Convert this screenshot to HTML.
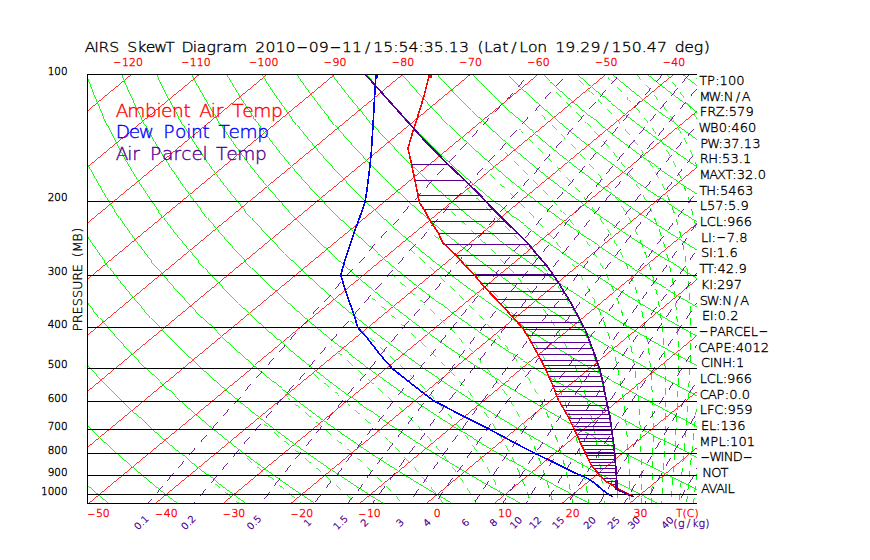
<!DOCTYPE html>
<html lang="en"><head><meta charset="utf-8"><title>AIRS SkewT Diagram</title>
<style>html,body{margin:0;padding:0;background:#fff;overflow:hidden}svg{display:block}text{font-family:"DejaVu Sans","Liberation Sans",sans-serif;font-weight:200;white-space:pre}</style></head>
<body>
<svg width="870" height="560" viewBox="0 0 870 560">
<rect width="870" height="560" fill="#fff"/>
<defs><clipPath id="c"><rect x="87.5" y="74.5" width="609.5" height="429"/></clipPath></defs>
<g clip-path="url(#c)" fill="none" stroke-width="1" shape-rendering="crispEdges">
<path stroke="#ff0000" stroke-width="0.8" d="M-522.3 503.5 L-4.3 74.7 M-454.6 503.5 L63.5 74.7 M-386.8 503.5 L131.2 74.7 M-319.1 503.5 L199 74.7 M-251.3 503.5 L266.8 74.7 M-183.5 503.5 L334.5 74.7 M-115.8 503.5 L402.3 74.7 M-48 503.5 L470 74.7 M19.7 503.5 L537.8 74.7 M87.5 503.5 L605.6 74.7 M155.3 503.5 L673.3 74.7 M223 503.5 L741.1 74.7 M290.8 503.5 L808.8 74.7 M358.5 503.5 L876.6 74.7 M426.3 503.5 L944.4 74.7 M494.1 503.5 L1012.1 74.7 M561.8 503.5 L1079.9 74.7 M629.6 503.5 L1147.6 74.7 M697.3 503.5 L1215.4 74.7"/>
<path stroke="#00ff00" stroke-width="0.92" d="M108.7 503.5 L100.3 496.4 L92 489.2 L83.9 482.1 L76.1 474.9 M177.5 503.5 L168.2 496.4 L159.2 489.2 L150.4 482.1 L141.8 474.9 L133.3 467.8 L125.1 460.6 L117 453.5 L109.1 446.3 L101.4 439.2 L93.9 432 L86.6 424.9 L79.5 417.7 M246.2 503.5 L236.2 496.4 L226.4 489.2 L216.8 482.1 L207.5 474.9 L198.3 467.8 L189.3 460.6 L180.5 453.5 L172 446.3 L163.6 439.2 L155.4 432 L147.4 424.9 L139.5 417.7 L131.9 410.6 L124.4 403.4 L117.1 396.3 L110 389.1 L103.1 382 L96.3 374.8 L89.8 367.7 L83.3 360.5 L77.1 353.4 M314.9 503.5 L304.1 496.4 L293.6 489.2 L283.3 482.1 L273.2 474.9 L263.3 467.8 L253.6 460.6 L244.1 453.5 L234.8 446.3 L225.7 439.2 L216.8 432 L208.1 424.9 L199.6 417.7 L191.3 410.6 L183.2 403.4 L175.2 396.3 L167.5 389.1 L159.9 382 L152.5 374.8 L145.3 367.7 L138.3 360.5 L131.4 353.4 L124.7 346.3 L118.2 339.1 L111.8 332 L105.7 324.8 L99.7 317.7 L93.8 310.5 L88.1 303.4 L82.6 296.2 L77.2 289.1 M383.6 503.5 L372.1 496.4 L360.8 489.2 L349.7 482.1 L338.9 474.9 L328.2 467.8 L317.8 460.6 L307.6 453.5 L297.6 446.3 L287.8 439.2 L278.2 432 L268.8 424.9 L259.7 417.7 L250.7 410.6 L241.9 403.4 L233.3 396.3 L224.9 389.1 L216.7 382 L208.7 374.8 L200.8 367.7 L193.2 360.5 L185.7 353.4 L178.4 346.3 L171.3 339.1 L164.4 332 L157.6 324.8 L151 317.7 L144.6 310.5 L138.3 303.4 L132.2 296.2 L126.3 289.1 L120.5 281.9 L114.9 274.8 L109.5 267.6 L104.2 260.5 L99.1 253.3 L94.1 246.2 L89.3 239 L84.6 231.9 L80 224.7 M452.3 503.5 L440 496.4 L428 489.2 L416.2 482.1 L404.6 474.9 L393.2 467.8 L382 460.6 L371.1 453.5 L360.4 446.3 L349.9 439.2 L339.6 432 L329.6 424.9 L319.7 417.7 L310.1 410.6 L300.6 403.4 L291.4 396.3 L282.3 389.1 L273.5 382 L264.8 374.8 L256.4 367.7 L248.1 360.5 L240 353.4 L232.1 346.3 L224.4 339.1 L216.9 332 L209.5 324.8 L202.3 317.7 L195.3 310.5 L188.5 303.4 L181.9 296.2 L175.4 289.1 L169.1 281.9 L162.9 274.8 L157 267.6 L151.1 260.5 L145.5 253.3 L140 246.2 L134.6 239 L129.5 231.9 L124.4 224.7 L119.6 217.6 L114.8 210.5 L110.2 203.3 L105.8 196.2 L101.5 189 L97.4 181.9 L93.4 174.7 L89.5 167.6 L85.8 160.4 L82.2 153.3 M521 503.5 L508 496.4 L495.2 489.2 L482.6 482.1 L470.3 474.9 L458.2 467.8 L446.3 460.6 L434.6 453.5 L423.2 446.3 L412 439.2 L401.1 432 L390.3 424.9 L379.8 417.7 L369.5 410.6 L359.4 403.4 L349.5 396.3 L339.8 389.1 L330.3 382 L321 374.8 L311.9 367.7 L303 360.5 L294.3 353.4 L285.8 346.3 L277.5 339.1 L269.4 332 L261.4 324.8 L253.7 317.7 L246.1 310.5 L238.7 303.4 L231.5 296.2 L224.5 289.1 L217.6 281.9 L210.9 274.8 L204.4 267.6 L198.1 260.5 L191.9 253.3 L185.9 246.2 L180 239 L174.3 231.9 L168.8 224.7 L163.4 217.6 L158.2 210.5 L153.2 203.3 L148.3 196.2 L143.5 189 L138.9 181.9 L134.4 174.7 L130.1 167.6 L125.9 160.4 L121.9 153.3 L118 146.1 L114.3 139 L110.7 131.8 L107.2 124.7 L103.9 117.5 L100.7 110.4 L97.6 103.2 L94.6 96.1 L91.8 88.9 L89.1 81.8 L86.6 74.7 M589.7 503.5 L575.9 496.4 L562.3 489.2 L549 482.1 L536 474.9 L523.1 467.8 L510.5 460.6 L498.2 453.5 L486.1 446.3 L474.2 439.2 L462.5 432 L451.1 424.9 L439.9 417.7 L428.9 410.6 L418.1 403.4 L407.5 396.3 L397.2 389.1 L387.1 382 L377.1 374.8 L367.4 367.7 L357.9 360.5 L348.6 353.4 L339.5 346.3 L330.6 339.1 L321.9 332 L313.3 324.8 L305 317.7 L296.9 310.5 L288.9 303.4 L281.2 296.2 L273.6 289.1 L266.2 281.9 L258.9 274.8 L251.9 267.6 L245 260.5 L238.3 253.3 L231.8 246.2 L225.4 239 L219.2 231.9 L213.2 224.7 L207.3 217.6 L201.6 210.5 L196.1 203.3 L190.7 196.2 L185.5 189 L180.4 181.9 L175.5 174.7 L170.7 167.6 L166.1 160.4 L161.6 153.3 L157.3 146.1 L153.1 139 L149 131.8 L145.1 124.7 L141.4 117.5 L137.7 110.4 L134.3 103.2 L130.9 96.1 L127.7 88.9 L124.6 81.8 L121.7 74.7 M658.4 503.5 L643.9 496.4 L629.5 489.2 L615.5 482.1 L601.7 474.9 L588.1 467.8 L574.8 460.6 L561.7 453.5 L548.9 446.3 L536.3 439.2 L523.9 432 L511.8 424.9 L499.9 417.7 L488.3 410.6 L476.8 403.4 L465.6 396.3 L454.6 389.1 L443.9 382 L433.3 374.8 L423 367.7 L412.8 360.5 L402.9 353.4 L393.2 346.3 L383.7 339.1 L374.4 332 L365.3 324.8 L356.4 317.7 L347.6 310.5 L339.1 303.4 L330.8 296.2 L322.7 289.1 L314.7 281.9 L306.9 274.8 L299.4 267.6 L292 260.5 L284.7 253.3 L277.7 246.2 L270.8 239 L264.1 231.9 L257.6 224.7 L251.2 217.6 L245 210.5 L239 203.3 L233.1 196.2 L227.4 189 L221.9 181.9 L216.5 174.7 L211.3 167.6 L206.2 160.4 L201.3 153.3 L196.5 146.1 L191.9 139 L187.4 131.8 L183.1 124.7 L178.9 117.5 L174.8 110.4 L170.9 103.2 L167.2 96.1 L163.6 88.9 L160.1 81.8 L156.7 74.7 M711.8 496.4 L696.7 489.2 L681.9 482.1 L667.4 474.9 L653.1 467.8 L639 460.6 L625.2 453.5 L611.7 446.3 L598.4 439.2 L585.4 432 L572.5 424.9 L560 417.7 L547.7 410.6 L535.6 403.4 L523.7 396.3 L512.1 389.1 L500.6 382 L489.5 374.8 L478.5 367.7 L467.7 360.5 L457.2 353.4 L446.9 346.3 L436.8 339.1 L426.9 332 L417.2 324.8 L407.7 317.7 L398.4 310.5 L389.3 303.4 L380.4 296.2 L371.8 289.1 L363.3 281.9 L354.9 274.8 L346.8 267.6 L338.9 260.5 L331.1 253.3 L323.6 246.2 L316.2 239 L309 231.9 L302 224.7 L295.1 217.6 L288.4 210.5 L281.9 203.3 L275.6 196.2 L269.4 189 L263.4 181.9 L257.5 174.7 L251.8 167.6 L246.3 160.4 L240.9 153.3 L235.7 146.1 L230.7 139 L225.8 131.8 L221 124.7 L216.4 117.5 L211.9 110.4 L207.6 103.2 L203.5 96.1 L199.4 88.9 L195.5 81.8 L191.8 74.7 M703.3 460.6 L688.8 453.5 L674.5 446.3 L660.5 439.2 L646.8 432 L633.3 424.9 L620 417.7 L607 410.6 L594.3 403.4 L581.8 396.3 L569.5 389.1 L557.4 382 L545.6 374.8 L534 367.7 L522.7 360.5 L511.5 353.4 L500.6 346.3 L489.9 339.1 L479.4 332 L469.1 324.8 L459 317.7 L449.2 310.5 L439.5 303.4 L430.1 296.2 L420.8 289.1 L411.8 281.9 L402.9 274.8 L394.3 267.6 L385.8 260.5 L377.6 253.3 L369.5 246.2 L361.6 239 L353.9 231.9 L346.3 224.7 L339 217.6 L331.8 210.5 L324.8 203.3 L318 196.2 L311.3 189 L304.9 181.9 L298.6 174.7 L292.4 167.6 L286.4 160.4 L280.6 153.3 L275 146.1 L269.5 139 L264.1 131.8 L258.9 124.7 L253.9 117.5 L249 110.4 L244.3 103.2 L239.7 96.1 L235.3 88.9 L231 81.8 L226.9 74.7 M708.2 432 L694 424.9 L680.1 417.7 L666.4 410.6 L653 403.4 L639.8 396.3 L626.9 389.1 L614.2 382 L601.8 374.8 L589.6 367.7 L577.6 360.5 L565.8 353.4 L554.3 346.3 L543 339.1 L531.9 332 L521 324.8 L510.4 317.7 L500 310.5 L489.7 303.4 L479.7 296.2 L469.9 289.1 L460.3 281.9 L450.9 274.8 L441.8 267.6 L432.8 260.5 L424 253.3 L415.4 246.2 L407 239 L398.7 231.9 L390.7 224.7 L382.9 217.6 L375.2 210.5 L367.7 203.3 L360.4 196.2 L353.3 189 L346.4 181.9 L339.6 174.7 L333 167.6 L326.5 160.4 L320.3 153.3 L314.2 146.1 L308.3 139 L302.5 131.8 L296.9 124.7 L291.4 117.5 L286.1 110.4 L281 103.2 L276 96.1 L271.2 88.9 L266.5 81.8 L261.9 74.7 M711.8 403.4 L697.9 396.3 L684.3 389.1 L671 382 L657.9 374.8 L645.1 367.7 L632.5 360.5 L620.1 353.4 L608 346.3 L596.1 339.1 L584.4 332 L573 324.8 L561.7 317.7 L550.7 310.5 L539.9 303.4 L529.4 296.2 L519 289.1 L508.9 281.9 L499 274.8 L489.2 267.6 L479.7 260.5 L470.4 253.3 L461.3 246.2 L452.3 239 L443.6 231.9 L435.1 224.7 L426.8 217.6 L418.6 210.5 L410.6 203.3 L402.9 196.2 L395.3 189 L387.9 181.9 L380.6 174.7 L373.6 167.6 L366.7 160.4 L360 153.3 L353.4 146.1 L347 139 L340.8 131.8 L334.8 124.7 L328.9 117.5 L323.2 110.4 L317.7 103.2 L312.3 96.1 L307 88.9 L301.9 81.8 L297 74.7 M714.1 374.8 L700.6 367.7 L687.4 360.5 L674.4 353.4 L661.7 346.3 L649.2 339.1 L636.9 332 L624.9 324.8 L613.1 317.7 L601.5 310.5 L590.1 303.4 L579 296.2 L568.1 289.1 L557.4 281.9 L547 274.8 L536.7 267.6 L526.6 260.5 L516.8 253.3 L507.2 246.2 L497.7 239 L488.5 231.9 L479.5 224.7 L470.6 217.6 L462 210.5 L453.6 203.3 L445.3 196.2 L437.2 189 L429.3 181.9 L421.6 174.7 L414.1 167.6 L406.8 160.4 L399.6 153.3 L392.7 146.1 L385.8 139 L379.2 131.8 L372.7 124.7 L366.4 117.5 L360.3 110.4 L354.3 103.2 L348.5 96.1 L342.9 88.9 L337.4 81.8 L332.1 74.7 M702.3 339.1 L689.4 332 L676.8 324.8 L664.4 317.7 L652.3 310.5 L640.4 303.4 L628.7 296.2 L617.2 289.1 L606 281.9 L595 274.8 L584.2 267.6 L573.6 260.5 L563.2 253.3 L553.1 246.2 L543.1 239 L533.4 231.9 L523.9 224.7 L514.5 217.6 L505.4 210.5 L496.5 203.3 L487.7 196.2 L479.2 189 L470.8 181.9 L462.7 174.7 L454.7 167.6 L446.9 160.4 L439.3 153.3 L431.9 146.1 L424.6 139 L417.6 131.8 L410.7 124.7 L404 117.5 L397.4 110.4 L391 103.2 L384.8 96.1 L378.8 88.9 L372.9 81.8 L367.2 74.7 M703 310.5 L690.6 303.4 L678.3 296.2 L666.3 289.1 L654.5 281.9 L643 274.8 L631.6 267.6 L620.5 260.5 L609.6 253.3 L599 246.2 L588.5 239 L578.3 231.9 L568.2 224.7 L558.4 217.6 L548.8 210.5 L539.4 203.3 L530.2 196.2 L521.2 189 L512.3 181.9 L503.7 174.7 L495.3 167.6 L487 160.4 L479 153.3 L471.1 146.1 L463.4 139 L455.9 131.8 L448.6 124.7 L441.5 117.5 L434.5 110.4 L427.7 103.2 L421.1 96.1 L414.6 88.9 L408.4 81.8 L402.2 74.7 M703.1 281.9 L691 274.8 L679.1 267.6 L667.5 260.5 L656.1 253.3 L644.9 246.2 L633.9 239 L623.1 231.9 L612.6 224.7 L602.3 217.6 L592.2 210.5 L582.3 203.3 L572.6 196.2 L563.1 189 L553.8 181.9 L544.7 174.7 L535.9 167.6 L527.2 160.4 L518.7 153.3 L510.4 146.1 L502.2 139 L494.3 131.8 L486.6 124.7 L479 117.5 L471.6 110.4 L464.4 103.2 L457.4 96.1 L450.5 88.9 L443.8 81.8 L437.3 74.7 M702.5 253.3 L690.8 246.2 L679.3 239 L668 231.9 L657 224.7 L646.2 217.6 L635.6 210.5 L625.2 203.3 L615 196.2 L605.1 189 L595.3 181.9 L585.8 174.7 L576.4 167.6 L567.3 160.4 L558.3 153.3 L549.6 146.1 L541 139 L532.7 131.8 L524.5 124.7 L516.5 117.5 L508.7 110.4 L501.1 103.2 L493.6 96.1 L486.4 88.9 L479.3 81.8 L472.4 74.7 M712.9 231.9 L701.4 224.7 L690.1 217.6 L679 210.5 L668.1 203.3 L657.5 196.2 L647 189 L636.8 181.9 L626.8 174.7 L617 167.6 L607.4 160.4 L598 153.3 L588.8 146.1 L579.8 139 L571 131.8 L562.4 124.7 L554 117.5 L545.8 110.4 L537.8 103.2 L529.9 96.1 L522.2 88.9 L514.8 81.8 L507.5 74.7 M711 203.3 L699.9 196.2 L689 189 L678.3 181.9 L667.8 174.7 L657.6 167.6 L647.5 160.4 L637.7 153.3 L628.1 146.1 L618.6 139 L609.4 131.8 L600.4 124.7 L591.5 117.5 L582.9 110.4 L574.4 103.2 L566.2 96.1 L558.1 88.9 L550.2 81.8 L542.5 74.7 M708.9 174.7 L698.2 167.6 L687.6 160.4 L677.4 153.3 L667.3 146.1 L657.4 139 L647.8 131.8 L638.3 124.7 L629 117.5 L620 110.4 L611.1 103.2 L602.5 96.1 L594 88.9 L585.7 81.8 L577.6 74.7 M706.5 146.1 L696.2 139 L686.1 131.8 L676.2 124.7 L666.5 117.5 L657.1 110.4 L647.8 103.2 L638.7 96.1 L629.8 88.9 L621.2 81.8 L612.7 74.7 M704.1 117.5 L694.2 110.4 L684.5 103.2 L675 96.1 L665.7 88.9 L656.6 81.8 L647.7 74.7 M701.6 88.9 L692.1 81.8 L682.8 74.7"/>
<path stroke="#00ff00" d="M505.5 503.5 L504.7 501.7 M529.3 498.2 L529.1 497.8 L527 492 M524.8 486.2 L523.7 483.5 L522.6 480.6 L522.4 480.1 M519.9 474.4 L518.9 472.1 L517.6 469.2 L517.3 468.3 M552.3 500.5 L551.5 497.8 L550.8 494.9 L550.6 494.2 M548.9 488.3 L548.3 486.3 L547.5 483.5 L547 482 M545.2 476.1 L544.8 474.9 L543.8 472.1 L543.1 469.9 M541 464.1 L540.8 463.5 L539.8 460.6 L538.8 457.9 M536.5 452.2 L536.4 452 L534 446.1 M572.8 502.8 L572.4 500.6 L571.8 497.8 L571.6 496.5 M570.4 490.5 L570.1 489.2 L569.5 486.3 L569 484.1 M567.7 478.2 L567.6 477.8 L566.1 471.9 M564.6 465.9 L564 463.5 L563.2 460.6 L562.9 459.6 M561.2 453.7 L560.7 452 L559.8 449.2 L559.3 447.5 M557.4 441.6 L557.1 440.6 L556.1 437.7 L555.3 435.4 M553.2 429.6 L553 429.2 L551.9 426.3 L550.8 423.5 M548.5 417.7 L548.5 417.7 L545.8 411.7 M588.7 503.5 L588.3 500.6 L588.1 498.9 M587.2 492.8 L587.1 492.1 L586.7 489.2 L586.2 486.4 M585.3 480.4 L584.8 477.8 L584.3 474.9 L584.2 474 M583.1 468 L582.7 466.3 L582.2 463.5 L581.8 461.7 M580.5 455.7 L580.4 454.9 L579.7 452 L579.1 449.4 M577.7 443.4 L577 440.6 L576.3 437.7 L576.1 437.1 M574.5 431.2 L573.9 429.2 L573.1 426.3 L572.7 424.9 M570.8 419 L570.4 417.7 L569.5 414.9 L568.8 412.8 M566.8 407 L566.5 406.3 L565.5 403.4 L564.5 400.8 M562.2 395.1 L562.1 394.9 L559.6 389 M604.2 503.5 L604 501.3 M603.5 495.2 L603.4 494.9 L602.8 488.8 M602.2 482.7 L602 480.6 L601.6 477.8 L601.5 476.3 M600.7 470.3 L600.6 469.2 L600.2 466.3 L599.9 463.9 M599 457.9 L599 457.8 L598.1 451.4 M597.1 445.4 L596.7 443.5 L596.2 440.6 L595.9 439.1 M594.8 433.1 L594.6 432 L594 429.2 L593.5 426.7 M592.2 420.7 L592.2 420.6 L590.7 414.4 M589.2 408.5 L588.6 406.3 L587.9 403.4 L587.5 402.2 M585.8 396.3 L585.4 394.9 L584.5 392 L583.9 390 M581.9 384.2 L581.7 383.4 L580.7 380.6 L579.8 378 M577.6 372.2 L577.5 372 L575.1 366.1 M617.3 497.6 L617.2 494.9 L617 492.1 L617 491.2 M616.6 485.1 L616.5 483.5 L616.3 480.6 L616.2 478.7 M615.7 472.6 L615.7 472.1 L615.2 466.2 M614.7 460.2 L614.5 457.8 L614.2 454.9 L614.1 453.7 M613.4 447.7 L613.3 446.3 L613 443.5 L612.7 441.3 M611.9 435.2 L611.9 434.9 L611.1 428.8 M610.2 422.8 L609.8 420.6 L609.4 417.7 L609.1 416.4 M608.1 410.4 L607.9 409.2 L607.3 406.3 L606.9 404 M605.7 398 L605.6 397.7 L604.3 391.7 M602.9 385.8 L602.3 383.4 L601.5 380.6 L601.2 379.4 M599.6 373.5 L599.2 372 L598.3 369.1 L597.8 367.3 M595.9 361.4 L595.6 360.5 L594.7 357.7 L593.8 355.2 M591.7 349.4 L591.6 349.1 L589.3 343.3 M586.9 337.5 L585.7 334.8 L584.4 332 L584.2 331.5 M629.9 500.1 L629.8 497.8 L629.8 494.9 L629.7 493.6 M629.6 487.6 L629.6 486.3 L629.5 483.5 L629.4 481.1 M629.2 475 L629.2 474.9 L629 468.6 M628.7 462.5 L628.6 460.6 L628.5 457.8 L628.4 456.1 M628.1 450 L628 449.2 L627.8 446.3 L627.7 443.6 M627.2 437.5 L627 434.9 L626.8 432 L626.7 431.1 M626.2 425 L626 423.4 L625.7 420.6 L625.5 418.6 M624.9 412.6 L624.8 412 L624.1 406.2 M623.3 400.1 L622.9 397.7 L622.5 394.9 L622.3 393.7 M621.4 387.7 L621.1 386.3 L620.7 383.4 L620.3 381.3 M619.1 375.3 L619 374.8 L617.8 369 M616.5 363 L615.9 360.5 L615.2 357.7 L614.9 356.7 M613.4 350.8 L612.9 349.1 L612.1 346.3 L611.6 344.5 M609.8 338.6 L609.5 337.7 L608.5 334.8 L607.7 332.4 M605.6 326.6 L605.5 326.2 L603.3 320.4 M601 314.7 L599.8 311.9 L598.5 309.1 L598.3 308.6 M641 502.5 L641 500.6 L641 497.8 L641.1 496.1 M641.1 490 L641.1 489.2 L641.1 486.3 L641.1 483.5 M641.1 477.5 L641.1 474.9 L641.1 472.1 L641.1 471 M641.1 465 L641.1 463.5 L641 460.6 L641 458.5 M640.9 452.4 L640.9 452 L640.8 446 M640.6 439.9 L640.5 437.7 L640.4 434.9 L640.4 433.5 M640.1 427.4 L640.1 426.3 L639.9 423.4 L639.8 421 M639.4 414.9 L639.4 414.9 L639 408.5 M638.6 402.4 L638.4 400.6 L638.2 397.7 L638 396 M637.4 389.9 L637.3 389.1 L637 386.3 L636.7 383.5 M636 377.5 L635.7 374.8 L635.3 372 L635.1 371.1 M634.2 365 L634 363.4 L633.5 360.5 L633.2 358.7 M632.1 352.7 L632 352 L631.4 349.1 L630.9 346.3 M629.6 340.3 L629 337.7 L628.3 334.8 L628.1 334 M626.6 328.1 L626.1 326.2 L625.3 323.4 L624.8 321.8 M623 315.9 L622.7 314.8 L621.8 311.9 L621 309.7 M619 303.8 L618.8 303.4 L617.8 300.5 L616.7 297.7 M614.3 291.9 L613.1 289.1 L611.9 286.2 L611.7 285.9 M651.5 503.5 L651.6 500.6 L651.7 498.5 M651.9 492.4 L651.9 492.1 L652.1 486 M652.3 479.9 L652.4 477.8 L652.4 474.9 L652.5 473.5 M652.6 467.4 L652.7 466.3 L652.7 463.5 L652.8 461 M652.9 454.9 L652.9 452 L652.9 449.2 L653 448.4 M653 442.4 L653 440.6 L653 437.7 L653 435.9 M653 429.9 L653 429.2 L653 423.4 M652.9 417.3 L652.9 414.9 L652.8 412 L652.8 410.9 M652.6 404.8 L652.6 403.4 L652.5 400.6 L652.4 398.4 M652.1 392.3 L652.1 392 L651.8 385.9 M651.4 379.8 L651.3 377.7 L651.1 374.8 L650.9 373.4 M650.4 367.3 L650.3 366.3 L650.1 363.4 L649.8 360.9 M649.2 354.9 L649.2 354.8 L648.4 348.4 M647.6 342.4 L647.3 340.5 L646.9 337.7 L646.6 336 M645.6 330 L645.4 329.1 L644.9 326.2 L644.4 323.6 M643.2 317.6 L642.5 314.8 L641.9 311.9 L641.7 311.3 M640.3 305.4 L639.7 303.4 L639 300.5 L638.6 299.1 M636.8 293.2 L636.5 291.9 L635.6 289.1 L634.9 286.9 M632.9 281.1 L632.6 280.5 L631.6 277.6 L630.6 274.9 M628.3 269.2 L628.2 269.1 L625.7 263.1 M661.6 503.5 L661.7 500.9 M662.1 494.9 L662.2 492.1 L662.4 489.2 L662.4 488.4 M662.8 482.4 L662.8 480.6 L663 477.8 L663.1 475.9 M663.4 469.9 L663.4 469.2 L663.7 463.4 M664 457.4 L664.1 454.9 L664.2 452 L664.3 450.9 M664.5 444.9 L664.6 443.5 L664.7 440.6 L664.8 438.4 M665 432.3 L665 432 L665.2 425.9 M665.3 419.8 L665.4 417.7 L665.4 414.9 L665.4 413.4 M665.5 407.3 L665.5 406.3 L665.6 403.4 L665.6 400.9 M665.6 394.8 L665.6 392 L665.6 389.1 L665.6 388.3 M665.5 382.3 L665.5 380.6 L665.4 377.7 L665.4 375.8 M665.2 369.8 L665.2 369.1 L664.9 363.3 M664.6 357.3 L664.5 354.8 L664.3 352 L664.3 350.8 M663.8 344.8 L663.7 343.4 L663.5 340.5 L663.3 338.3 M662.7 332.3 L662.7 332 L662 325.8 M661.3 319.8 L661 317.7 L660.6 314.8 L660.4 313.4 M659.4 307.4 L659.2 306.2 L658.7 303.4 L658.3 301 M657.2 295 L657.1 294.8 L655.8 288.7 M654.4 282.7 L653.8 280.5 L653.1 277.6 L652.7 276.4 M651.1 270.5 L650.6 269.1 L649.8 266.2 L649.1 264.3 M647.2 258.4 L646.9 257.6 L645.9 254.8 L644.9 252.2 M642.7 246.5 L642.5 246.2 L640.1 240.4 M670.9 503.5 L670.9 503.4 M671.4 497.3 L671.5 494.9 L671.8 492.1 L671.8 490.9 M672.3 484.8 L672.4 483.5 L672.6 480.6 L672.8 478.4 M673.2 472.3 L673.2 472.1 L673.7 465.9 M674.1 459.8 L674.3 457.8 L674.5 454.9 L674.6 453.4 M675 447.3 L675 446.3 L675.2 443.5 L675.4 440.9 M675.8 434.8 L675.9 432 L676.1 429.2 L676.2 428.4 M676.5 422.3 L676.6 420.6 L676.7 417.7 L676.8 415.9 M677.1 409.8 L677.2 409.2 L677.4 403.4 M677.7 397.3 L677.7 394.9 L677.8 392 L677.9 390.9 M678.1 384.8 L678.1 383.4 L678.2 380.6 L678.2 378.4 M678.3 372.3 L678.3 372 L678.4 365.8 M678.4 359.8 L678.4 357.7 L678.3 354.8 L678.3 353.3 M678.2 347.3 L678.2 346.3 L678.1 343.4 L678.1 340.8 M677.9 334.7 L677.7 332 L677.6 329.1 L677.6 328.3 M677.2 322.2 L677.1 320.5 L676.9 317.7 L676.8 315.8 M676.3 309.8 L676.2 309.1 L675.6 303.3 M674.9 297.3 L674.6 294.8 L674.3 291.9 L674.1 290.9 M673.2 284.8 L673 283.4 L672.5 280.5 L672.2 278.5 M671.1 272.5 L670.9 271.9 L669.7 266.1 M668.4 260.1 L667.8 257.6 L667 254.8 L666.8 253.8 M665.2 247.9 L664.6 246.2 L663.8 243.3 L663.3 241.7 M661.3 235.8 L661 234.8 L659.9 231.9 L659.1 229.6 M656.9 223.9 L656.7 223.3 L655.5 220.5 L654.3 217.8 M679.5 499.8 L679.7 497.8 L679.9 494.9 L680.1 493.3 M680.6 487.3 L680.7 486.3 L681 483.5 L681.2 480.8 M681.8 474.8 L682 472.1 L682.3 469.2 L682.4 468.4 M682.9 462.3 L683.1 460.6 L683.3 457.8 L683.5 455.9 M684 449.8 L684.1 449.2 L684.6 443.4 M685.1 437.3 L685.3 434.9 L685.6 432 L685.6 430.9 M686.1 424.9 L686.3 423.4 L686.5 420.6 L686.6 418.4 M687.1 412.4 L687.1 412 L687.6 405.9 M688 399.9 L688.1 397.7 L688.3 394.9 L688.4 393.4 M688.8 387.4 L688.9 386.3 L689 383.4 L689.2 380.9 M689.5 374.9 L689.5 374.8 L689.8 368.4 M690 362.4 L690.1 360.5 L690.2 357.7 L690.3 355.9 M690.4 349.8 L690.4 349.1 L690.6 343.4 M690.6 337.3 L690.7 334.8 L690.7 332 L690.7 330.9 M690.6 324.8 L690.6 323.4 L690.6 320.5 L690.5 318.4 M690.4 312.3 L690.4 311.9 L690.1 305.8 M689.8 299.8 L689.7 297.7 L689.5 294.8 L689.4 293.3 M689 287.3 L688.9 286.2 L688.6 283.4 L688.4 280.9 M687.7 274.8 L687.7 274.8 L686.9 268.4 M686.1 262.4 L685.8 260.5 L685.3 257.6 L685.1 256 M684 250 L683.8 249 L683.2 246.2 L682.7 243.6 M681.3 237.7 L681.3 237.6 L679.7 231.3 M678.1 225.4 L677.5 223.3 L676.6 220.5 L676.2 219.2 M674.3 213.3 L673.8 211.9 L672.7 209 L672 207.2 M669.8 201.4 L669.4 200.4 L668.2 197.6 L667.2 195.3 M686.6 502.2 L686.8 500.6 L687.1 497.8 L687.3 495.8 M687.9 489.7 L688 489.2 L688.6 483.3 M689.3 477.2 L689.5 474.9 L689.8 472.1 L689.9 470.8 M690.6 464.8 L690.7 463.5 L691 460.6 L691.3 458.4 M691.9 452.3 L691.9 452 L692.6 445.9 M693.2 439.8 L693.4 437.7 L693.7 434.9 L693.9 433.4 M694.5 427.4 L694.6 426.3 L694.9 423.4 L695.1 420.9 M695.7 414.9 L695.7 414.9 L696.4 408.5 M696.9 402.4 L697.1 400.6 L697.3 397.7 L697.5 396 M698 389.9 L698.1 389.1 L698.3 386.3 L698.6 383.5 M699.1 377.4 L699.3 374.8 L699.5 372 L699.6 371 M700 365 L700.1 363.4 L700.3 360.5 L700.4 358.5 M700.8 352.5 L700.8 352 L701.2 346 M701.5 340 L701.6 337.7 L701.7 334.8 L701.8 333.5 M702 327.4 L702 326.2 L702.1 323.4 L702.2 321 M702.3 314.9 L702.3 314.8 L702.4 308.5 M702.4 302.4 L702.4 300.5 L702.3 297.7 L702.3 296 M702.2 289.9 L702.2 289.1 L702.1 286.2 L702 283.4 M701.7 277.4 L701.6 274.8 L701.4 271.9 L701.3 270.9 M700.9 264.9 L700.7 263.3 L700.5 260.5 L700.3 258.4 M699.7 252.4 L699.6 251.9 L698.9 246 M698 240 L697.6 237.6 L697.2 234.8 L697 233.6 M695.9 227.6 L695.6 226.2 L695 223.3 L694.5 221.2 M693.2 215.3 L693 214.7 L691.6 209 M689.9 203.1 L689.1 200.4 L688.2 197.6 L687.9 196.8 M685.9 191 L685.2 189 L684.2 186.2 L683.7 184.8 M681.3 179.1 L680.7 177.6 L679.5 174.7 L678.7 173 M693.5 503.5 L693.8 500.6 L694.1 498.2 M694.8 492.2 L694.8 492.1 L695.6 485.7 M696.3 479.7 L696.5 477.8 L696.9 474.9 L697.1 473.3 M697.8 467.2 L697.9 466.3 L698.3 463.5 L698.6 460.8 M699.3 454.8 L699.6 452 L700 449.2 L700.1 448.4 M700.8 442.3 L701 440.6 L701.4 437.7 L701.6 435.9 M702.3 429.9 L702.4 429.2 L702.7 426.3 L703.1 423.5 M703.8 417.4 L704.1 414.9 L704.4 412 L704.4 411 M704.4 404.9 L704.4 398.5 M704.4 392.4 L704.4 386 M704.4 379.9 L704.4 373.4 M704.3 367.4 L704.3 360.9 M704.3 354.9 L704.3 348.4 M704.3 342.3 L704.3 335.9 M704.3 329.8 L704.3 323.4 M704.3 317.3 L704.3 310.9 M704.3 304.8 L704.3 298.3 M704.3 292.3 L704.3 285.8 M704.2 279.8 L704.2 273.3 M704.2 267.2 L704.2 260.8 M704.2 254.7 L704.2 248.3 M704.2 242.2 L704.2 235.8 M704.2 229.7 L704.2 223.2 M704.2 217.2 L704.2 210.7 M704.2 204.7 L704.2 198.2 M704.1 192.1 L704.1 189 L703.4 186.2 L703.3 185.8 M701.5 179.9 L700.8 177.6 L699.9 174.7 L699.5 173.6 M697.4 167.8 L696.8 166.1 L695.7 163.3 L695 161.7 M700.2 503.5 L700.5 500.6 L700.5 500.6 M701.3 494.6 L701.6 492.1 L702 489.2 L702.1 488.2 M702.9 482.1 L703.1 480.6 L703.5 477.8 L703.8 475.7 M704.3 469.7 L704.2 463.2 M704.2 457.2 L704.2 450.7 M704.2 444.7 L704.2 438.2 M704.2 432.1 L704.1 425.7 M704.1 419.6 L704.1 413.2 M704.1 407.1 L704.1 400.6 M704.1 394.6 L704 388.1 M704 382.1 L704 375.6 M704 369.6 L704 363.1 M704 357 L704 350.6 M703.9 344.5 L703.9 338.1 M703.9 332 L703.9 325.5 M703.9 319.5 L703.9 313 M703.8 307 L703.8 300.5 M703.8 294.4 L703.8 288 M703.8 281.9 L703.8 275.5 M703.7 269.4 L703.7 263 M703.7 256.9 L703.7 250.4 M703.7 244.4 L703.7 237.9 M703.7 231.9 L703.6 225.4 M703.6 219.3 L703.6 212.9 M703.6 206.8 L703.6 200.4 M703.6 194.3 L703.5 187.9 M703.5 181.8 L703.5 175.3 M703.5 169.3 L703.5 162.8 M703.5 156.8 L703.4 150.3 M703.4 144.2 L703.4 137.8"/>
<path stroke="#00ff00" stroke-width="0.8" d="M239.3 503.5 L235.9 500.7 M230.6 496.5 L228.7 494.9 L225.2 492.1 L225.1 492 M219.9 487.7 L218.2 486.3 L214.7 483.5 M301.2 503.5 L299.9 502.4 M294.8 498 L294.5 497.8 L291.1 494.9 L289.3 493.4 M284.2 489.1 L280.8 486.3 L278.7 484.6 M273.5 480.3 L270.5 477.8 L268 475.8 M262.9 471.5 L260.1 469.2 L257.4 467 M252.2 462.7 L249.7 460.6 L246.7 458.1 M241.5 453.9 L239.3 452 M351.6 499.6 L349.7 497.8 L346.6 494.9 L346.4 494.8 M341.5 490.3 L340.4 489.2 L337.2 486.3 L336.3 485.5 M331.3 481.1 L330.8 480.6 L327.6 477.8 L326 476.4 M321 472 L317.8 469.2 L315.6 467.3 M310.5 463 L307.7 460.6 L305.1 458.4 M300 454.1 L297.6 452 L294.6 449.5 M289.4 445.2 L287.4 443.5 L284 440.6 L284 440.6 M278.8 436.3 L277.2 434.9 L273.7 432 L273.4 431.7 M268.3 427.4 L266.9 426.3 L263.6 423.4 M400.4 501.3 L399.8 500.6 L397.3 497.8 L395.7 496.1 M391.3 491.3 L389.3 489.2 L386.6 486.3 L386.5 486.3 M381.9 481.6 L381 480.6 L378.1 477.8 L376.9 476.6 M372.2 472 L369.3 469.2 L367.1 467.1 M362.3 462.6 L360.2 460.6 L357.1 457.8 M352.2 453.3 L350.8 452 L347.6 449.2 L346.9 448.6 M342 444.1 L341.2 443.5 L337.9 440.6 L336.6 439.5 M331.6 435.1 L331.4 434.9 L328.1 432 L326.2 430.4 M321.2 426.1 L318.1 423.4 L315.7 421.5 M310.7 417.1 L308 414.9 L305.2 412.5 M300.1 408.2 L297.9 406.3 L294.7 403.6 M289.6 399.2 L287.9 397.7 L284.5 394.9 M443 503.2 L441.1 500.6 L439 497.8 L439 497.7 M435.1 492.6 L434.7 492.1 L432.5 489.2 L430.9 487.1 M426.8 482.1 L425.6 480.6 L423.2 477.8 L422.4 476.8 M418.1 471.9 L415.7 469.2 L413.5 466.7 M409.1 461.9 L407.9 460.6 L405.2 457.8 L404.3 456.8 M399.8 452.1 L399.7 452 L396.9 449.2 L394.8 447.1 M390.2 442.5 L388.3 440.6 L385.3 437.7 L385.1 437.6 M380.3 433 L379.3 432 L376.2 429.2 L375.2 428.2 M370.3 423.7 L370 423.4 L366.9 420.6 L365 418.9 M360.1 414.5 L357.3 412 L354.8 409.8 M349.8 405.4 L347.6 403.4 L344.5 400.7 M339.4 396.3 L337.8 394.9 L334.5 392 L334.1 391.6 M329 387.3 L327.8 386.3 L324.5 383.4 L323.6 382.6 M318.6 378.3 L317.9 377.7 L314.6 374.8 L313.2 373.6 M308.1 369.3 L308 369.1 M476.4 503.5 L474.7 500.6 L474.1 499.6 M470.9 494.2 L469.6 492.1 L467.8 489.2 L467.3 488.4 M463.8 483.1 L462.2 480.6 L460.2 477.8 L460 477.5 M456.4 472.2 L456.2 472.1 L454.1 469.2 L452.3 466.7 M448.4 461.6 L447.7 460.6 L445.4 457.8 L444.2 456.2 M440.1 451.2 L438.4 449.2 L436 446.3 L435.6 445.9 M431.4 441 L431 440.6 L428.5 437.7 L426.7 435.8 M422.3 431 L420.6 429.2 L417.9 426.3 L417.5 425.9 M412.9 421.2 L412.3 420.6 L409.5 417.7 L408 416.3 M403.3 411.6 L400.7 409.2 L398.2 406.7 M393.4 402.2 L391.7 400.6 L388.6 397.7 L388.3 397.4 M383.4 392.9 L382.4 392 L379.3 389.1 L378.1 388.1 M373.2 383.7 L372.9 383.4 L369.7 380.6 L367.9 378.9 M362.9 374.5 L360.1 372 L357.6 369.8 M352.6 365.4 L350.3 363.4 L347.3 360.8 M342.2 356.4 L340.5 354.8 L337.2 352 L336.9 351.7 M331.9 347.3 L330.7 346.3 M502.1 496 L501.6 494.9 L500.2 492.1 L499.2 490.1 M496.4 484.5 L495.9 483.5 L494.4 480.6 L493.3 478.6 M490.2 473.1 L489.7 472.1 L488 469.2 L486.9 467.2 M483.6 461.8 L482.8 460.6 L481 457.8 L480 456.1 M476.5 450.8 L475.4 449.2 L473.4 446.3 L472.6 445.2 M468.9 440 L467.2 437.7 L465.1 434.9 L464.8 434.5 M460.9 429.4 L460.6 429.2 L458.4 426.3 L456.5 424.1 M452.4 419.1 L451.3 417.7 L448.8 414.9 L447.9 413.8 M443.6 408.9 L441.2 406.3 L438.9 403.8 M434.4 399 L433.2 397.7 L430.4 394.9 L429.6 394 M424.9 389.3 L424.8 389.1 L421.9 386.3 L420 384.4 M415.2 379.7 L413.1 377.7 L410.2 374.9 M405.3 370.3 L404.1 369.1 L401 366.3 L400.2 365.5 M395.3 361 L394.8 360.5 L391.6 357.7 L390 356.3 M385.1 351.8 L382.1 349.1 L379.8 347.1 M374.9 342.7 L372.5 340.5 L369.6 338 M364.6 333.5 L362.8 332 L359.6 329.1 L359.3 328.8 M354.3 324.4 L353.1 323.4 L349.9 320.5 M514.6 462.7 L513.6 460.6 L512.2 457.8 L511.7 456.7 M508.8 451.1 L507.8 449.2 L506.2 446.3 L505.6 445.3 M502.5 439.8 L501.3 437.7 L499.6 434.9 L499.1 434 M495.7 428.6 L494.2 426.3 L492.4 423.4 L492 422.9 M488.4 417.7 L486.5 414.9 L484.5 412.1 M480.7 406.9 L480.2 406.3 L478 403.4 L476.5 401.5 M472.5 396.5 L471.2 394.9 L468.8 392 L468.1 391.1 M463.9 386.2 L461.5 383.4 L459.3 381 M454.9 376.2 L453.7 374.8 L451 372 L450.1 371.1 M445.6 366.3 L445.6 366.3 L442.8 363.4 L440.7 361.3 M436 356.7 L434.2 354.8 L431.3 352 L431 351.7 M426.3 347.2 L425.3 346.3 L422.3 343.4 L421.2 342.3 M416.3 337.8 L416.2 337.7 L413.1 334.8 L411.1 333 M406.2 328.5 L403.8 326.2 L401 323.7 M396.1 319.3 L394.3 317.7 L391.1 314.8 L390.8 314.5 M385.9 310.1 L384.8 309.1 L381.6 306.2 L380.6 305.4 M375.6 300.9 L375.2 300.5 L372 297.7 M531.5 440.4 L530.3 437.7 L528.9 434.9 L528.7 434.4 M526 428.7 L524.7 426.3 L523.3 423.4 L522.9 422.8 M519.9 417.3 L518.6 414.9 L517 412 L516.6 411.4 M513.4 406 L511.8 403.4 L510 400.6 L509.8 400.3 M506.4 394.9 L506.3 394.9 L504.4 392 L502.5 389.3 M498.8 384.1 L498.3 383.4 L496.2 380.6 L494.7 378.6 M490.8 373.5 L489.6 372 L487.3 369.1 L486.5 368.2 M482.4 363.2 L480.1 360.5 L477.9 357.9 M473.5 353 L472.6 352 L470 349.1 L468.9 347.9 M464.4 343.1 L461.9 340.5 L459.5 338.1 M454.9 333.4 L453.5 332 L450.7 329.1 L450 328.4 M445.3 323.8 L444.8 323.4 L441.9 320.5 L440.2 318.9 M435.4 314.4 L432.8 311.9 L430.3 309.5 M425.4 305 L423.6 303.4 L420.5 300.5 L420.2 300.2 M415.3 295.7 L414.3 294.8 L411.1 291.9 L410.1 291 M405.2 286.5 L404.9 286.2 L401.7 283.4 L399.9 281.7 M395 277.3 L392.3 274.8 M543.2 406 L542 403.4 L540.6 400.6 L540.3 400 M537.5 394.4 L536.2 392 L534.7 389.1 L534.3 388.5 M531.2 383.1 L529.8 380.6 L528 377.7 L527.8 377.3 M524.4 371.9 L522.6 369.1 L520.7 366.3 L520.7 366.2 M517.1 361 L516.8 360.5 L514.8 357.7 L513.1 355.4 M509.3 350.3 L508.4 349.1 L506.2 346.3 L505.1 344.9 M501 339.8 L499.2 337.7 L496.8 334.8 L496.6 334.5 M492.3 329.6 L491.9 329.1 L489.3 326.2 L487.7 324.4 M483.3 319.6 L481.5 317.7 L478.8 314.8 L478.5 314.5 M474 309.8 L473.3 309.1 L470.4 306.2 L469 304.8 M464.4 300.2 L461.8 297.7 L459.4 295.2 M454.6 290.7 L453 289.1 L449.9 286.2 L449.5 285.8 M444.7 281.2 L443.9 280.5 L440.8 277.6 L439.5 276.4 M434.7 271.9 L431.6 269.1 L429.5 267.1 M424.6 262.6 L422.3 260.5 L419.4 257.8 M414.5 253.3 L413 251.9 L409.8 249 M557.1 383.3 L555.8 380.6 L554.5 377.7 L554.3 377.3 M551.5 371.7 L550.1 369.1 L548.6 366.3 L548.3 365.8 M545.3 360.3 L543.8 357.7 L542.1 354.8 L541.9 354.5 M538.5 349.1 L536.7 346.3 L534.9 343.4 M531.3 338.1 L531 337.7 L529 334.8 L527.3 332.6 M523.5 327.4 L522.6 326.2 L520.4 323.4 L519.3 322 M515.3 317 L513.5 314.8 L511.1 311.9 L510.9 311.6 M506.6 306.7 L506.2 306.2 L503.7 303.4 L502 301.5 M497.6 296.7 L495.9 294.8 L493.2 291.9 L492.9 291.6 M488.3 286.9 L487.7 286.2 L484.9 283.4 L483.4 281.9 M478.8 277.2 L476.3 274.8 L473.8 272.3 M469 267.7 L467.5 266.2 L464.5 263.3 L464 262.8 M459.2 258.2 L458.5 257.6 L455.5 254.8 L454 253.4 M449.2 248.9 L446.3 246.2 L444 244 M439.2 239.5 L437.1 237.6 L434 234.8 L434 234.7 M429.2 230.2 L427.9 229 M572.7 360.4 L571.5 357.7 L570.2 354.8 L569.9 354.3 M567.2 348.7 L566 346.3 L564.5 343.4 L564.2 342.8 M561.2 337.3 L559.8 334.8 L558.2 332 L557.9 331.4 M554.6 326 L553 323.4 L551.2 320.5 L551 320.3 M547.5 315 L547.4 314.8 L545.4 311.9 L543.6 309.4 M539.8 304.2 L539.2 303.4 L537 300.5 L535.7 298.8 M531.7 293.7 L530.2 291.9 L527.9 289.1 L527.3 288.4 M523.1 283.4 L523.1 283.4 L520.6 280.5 L518.5 278.2 M514.2 273.4 L512.9 271.9 L510.2 269.1 L509.4 268.2 M504.9 263.5 L504.8 263.3 L502 260.5 L500.1 258.5 M495.4 253.8 L493.6 251.9 L490.7 249 L490.5 248.8 M485.8 244.2 L484.9 243.3 L481.9 240.5 L480.7 239.3 M475.9 234.7 L473 231.9 L470.8 229.9 M466 225.3 L463.9 223.3 L460.9 220.5 M456.1 215.9 L454.8 214.7 L451.8 211.9 L450.9 211.1 M581.5 325.8 L580.3 323.4 L578.9 320.5 L578.5 319.9 M575.6 314.3 L574.3 311.9 L572.6 309.1 L572.3 308.5 M569.1 303.1 L567.5 300.5 L565.7 297.7 L565.5 297.3 M562 292 L561.9 291.9 L560 289.1 L558.1 286.4 M554.3 281.2 L553.8 280.5 L551.6 277.6 L550.2 275.8 M546.2 270.7 L544.9 269.1 L542.6 266.2 L541.9 265.4 M537.7 260.4 L535.3 257.6 L533.1 255.2 M528.8 250.3 L527.6 249 L525 246.2 L524.1 245.2 M519.6 240.4 L516.9 237.6 L514.7 235.4 M510.1 230.7 L508.4 229 L505.6 226.2 L505.2 225.8 M500.5 221.1 L499.8 220.5 L496.9 217.6 L495.4 216.2 M490.7 211.6 L488 209 L485.6 206.7 M480.8 202.2 L479 200.4 L476 197.6 L475.7 197.3 M470.9 192.8 L470 191.9 L467 189 M595.7 303 L594.5 300.5 L593.1 297.7 L592.7 297 M589.8 291.5 L588.5 289.1 L586.9 286.2 L586.5 285.6 M583.3 280.2 L581.8 277.6 L580 274.8 L579.8 274.4 M576.3 269.1 L576.2 269.1 L574.3 266.2 L572.4 263.5 M568.7 258.3 L568.2 257.6 L566 254.8 L564.6 252.8 M560.6 247.8 L559.3 246.2 L557 243.3 L556.2 242.4 M552.1 237.5 L549.7 234.8 L547.5 232.2 M543.2 227.4 L542.1 226.2 L539.5 223.3 L538.5 222.2 M534 217.5 L531.4 214.7 L529.1 212.4 M524.5 207.7 L523 206.2 L520.1 203.3 L519.6 202.8 M514.9 198.1 L514.4 197.6 L511.5 194.7 L509.9 193.2 M505.2 188.6 L502.7 186.2 L500.1 183.7 M495.4 179.1 L493.8 177.6 L490.8 174.7 L490.3 174.2 M485.5 169.6 L484.8 169 M609.1 280.2 L607.9 277.6 L606.4 274.8 L606.2 274.2 M603.2 268.7 L601.9 266.2 L600.3 263.3 L600 262.8 M596.8 257.4 L595.2 254.8 L593.3 251.9 L593.2 251.7 M589.7 246.3 L589.6 246.2 L587.6 243.3 L585.8 240.7 M582.1 235.5 L581.5 234.8 L579.3 231.9 L578 230.1 M574 225 L572.6 223.3 L570.3 220.5 L569.6 219.7 M565.4 214.7 L563 211.9 L560.9 209.5 M556.5 204.6 L555.3 203.3 L552.7 200.4 L551.8 199.5 M547.3 194.7 L547.3 194.7 L544.6 191.9 L542.5 189.7 M537.9 185 L536.2 183.3 L533.4 180.4 L533 180 M528.3 175.3 L527.7 174.7 L524.8 171.9 L523.3 170.4 M518.6 165.8 L516 163.3 L513.6 160.9 M508.8 156.3 L507.2 154.7 L504.3 151.8 L503.8 151.4 M623.1 257.4 L621.8 254.8 L620.4 251.9 L620.1 251.5 M617.2 245.9 L615.8 243.3 L614.2 240.5 L614 240.1 M610.8 234.6 L609.1 231.9 L607.3 229 L607.2 228.9 M603.7 223.6 L603.6 223.3 L601.6 220.5 L599.9 218 M596.1 212.8 L595.4 211.9 L593.3 209 L592 207.3 M588 202.2 L586.6 200.4 L584.2 197.6 L583.6 196.9 M579.5 191.9 L579.4 191.9 L576.9 189 L574.9 186.7 M570.5 181.9 L569.3 180.4 L566.6 177.6 L565.8 176.7 M561.4 172 L561.3 171.9 L558.5 169 L556.5 166.9 M552 162.2 L550.2 160.4 L547.4 157.6 L547 157.2 M542.4 152.5 L541.7 151.8 L538.8 149 L537.4 147.6 M532.7 143 L530.1 140.4 L527.7 138 M523 133.4 L521.4 131.8 L518.5 129 M637.5 234.7 L636.2 231.9 L634.8 229 L634.6 228.7 M631.7 223.2 L630.2 220.5 L628.6 217.6 L628.5 217.3 M625.3 211.9 L623.5 209 L621.7 206.2 L621.7 206.1 M618.2 200.8 L618 200.4 L616 197.6 L614.4 195.2 M610.6 190 L609.9 189 L607.7 186.2 L606.5 184.6 M602.5 179.5 L601 177.6 L598.6 174.7 L598.2 174.1 M594 169.2 L593.8 169 L591.4 166.1 L589.4 164 M585.1 159.1 L583.7 157.6 L581.1 154.7 L580.4 154 M575.9 149.2 L575.7 149 L573 146.1 L571.1 144.1 M566.5 139.4 L564.7 137.5 L561.9 134.7 L561.6 134.4 M557 129.7 L556.3 129 L553.4 126.1 L552 124.8 M547.4 120.1 L544.8 117.5 L542.4 115.2 M537.7 110.5 L536.1 109 M651.8 212.1 L651.7 211.9 L648.9 206.1 M646 200.5 L645.9 200.4 L642.7 194.7 M639.5 189.2 L639.4 189 L637.7 186.2 L636 183.5 M632.5 178.2 L632.1 177.6 L630.1 174.7 L628.6 172.6 M624.9 167.4 L624 166.1 L621.8 163.3 L620.7 161.9 M616.8 156.9 L615 154.7 L612.7 151.8 L612.4 151.5 M608.2 146.6 L607.9 146.1 L605.4 143.3 L603.7 141.3 M599.3 136.5 L597.7 134.7 L595.1 131.8 L594.6 131.3 M590.2 126.5 L589.8 126.1 L587.1 123.3 L585.4 121.5 M580.8 116.8 L578.8 114.7 L576 111.8 L575.9 111.7 M571.3 107.1 L570.4 106.1 L567.5 103.2 L566.4 102.1 M561.7 97.4 L559 94.7 L556.8 92.4 M664.6 189.6 L664.3 189 L662.9 186.2 L661.7 183.7 M658.8 178.1 L658.5 177.6 L656.9 174.7 L655.5 172.3 M652.3 166.8 L651.8 166.1 L650.1 163.3 L648.7 161.1 M645.1 155.8 L644.4 154.7 L642.4 151.8 L641.2 150.2 M637.5 145.1 L636.1 143.3 L633.9 140.4 L633.3 139.6 M629.3 134.5 L627.1 131.8 L624.9 129.2 M620.7 124.3 L619.8 123.3 L617.3 120.4 L616.1 119.1 M611.8 114.2 L609.6 111.8 L607.1 109.1 M602.6 104.3 L601.6 103.2 L598.9 100.4 L597.8 99.2 M593.2 94.5 L590.6 91.8 L588.4 89.5 M583.8 84.8 L582.2 83.2 L579.4 80.4 L578.8 79.8 M574.2 75.1 L573.8 74.7 M676 167.4 L675.4 166.1 L674 163.3 L673 161.4 M670 155.9 L669.4 154.7 L667.8 151.8 L666.7 150 M663.4 144.6 L662.5 143.3 L660.7 140.4 L659.7 139 M656.1 133.7 L654.8 131.8 L652.8 129 L652.2 128.1 M648.3 123 L646.3 120.4 L644.1 117.6 M640 112.6 L639.4 111.8 L637.1 109 L635.6 107.3 M631.4 102.3 L629.7 100.4 L627.1 97.5 L626.8 97.1 M622.4 92.3 L622 91.8 L619.3 88.9 L617.7 87.2 M613.2 82.4 L611.3 80.4 L608.6 77.5 L608.4 77.3 M692.6 156 L692.1 154.7 L690.8 151.8 L689.9 149.9 M687.1 144.3 L686.6 143.3 L685.1 140.4 L684 138.4 M681 132.9 L680.3 131.8 L678.6 129 L677.5 127.1 M674.1 121.8 L673.2 120.4 L671.3 117.5 L670.4 116.1 M666.7 110.9 L665.3 109 L663.2 106.1 L662.6 105.4 M658.7 100.3 L656.5 97.5 L654.4 94.9 M650.3 89.9 L649.5 88.9 L647.1 86.1 L645.8 84.6 M641.5 79.7 L639.6 77.5 L637 74.7 M703.4 131.7 L702 129 L700.7 126.1 L700.5 125.7 M697.6 120.2 L696.1 117.5 L694.5 114.7 L694.3 114.3 M691.1 108.9 L689.4 106.1 L687.6 103.2 L687.5 103.2 M684 97.8 L683.8 97.5 L681.8 94.7 L680.1 92.3 M676.3 87.1 L675.6 86.1 L673.4 83.2 L672.2 81.6 M668.2 76.6 L666.6 74.7 M703.6 88.9 L703.3 88.5 M699.9 83.2 L698.1 80.4 L696.2 77.5"/>
<path stroke="#560090" stroke-width="0.85" d="M147.7 503.5 L151.4 499.2 M156.4 493.4 L162.5 486.3 M167.4 480.5 L173.5 473.4 M178.5 467.6 L184.6 460.6 M189.6 454.8 L195.6 447.7 M200.6 442 L206.7 434.9 M211.7 429.1 L217.9 422.1 M222.9 416.3 L229 409.3 M234 403.5 L240.2 396.5 M245.2 390.7 L251.3 383.7 M256.4 378 L262.5 370.9 M267.6 365.2 L273.7 358.2 M278.8 352.4 L285 345.4 M290 339.7 L296.2 332.7 M301.3 327 L307.5 320 M312.5 314.2 L318.7 307.2 M323.8 301.5 L330 294.5 M335.1 288.8 L341.3 281.8 M346.4 276.1 L352.7 269.1 M357.8 263.4 L364 256.5 M369.1 250.8 L375.4 243.8 M380.5 238.1 L386.7 231.1 M391.8 225.4 L398.1 218.5 M403.2 212.8 L409.5 205.8 M414.7 200.2 L420.9 193.2 M426.1 187.5 L432.4 180.6 M437.5 174.9 L443.8 168 M449 162.3 L455.3 155.4 M460.4 149.7 L466.7 142.8 M471.9 137.1 L478.2 130.2 M483.4 124.5 L489.7 117.6 M494.9 112 L501.3 105.1 M506.4 99.4 L512.8 92.5 M518 86.8 L524.3 79.9 M193.9 503.5 L195.3 501.9 M200.1 496 L206.1 488.9 M211 483 L216.9 475.9 M221.8 470.1 L227.8 462.9 M232.7 457.1 L238.7 450 M243.6 444.1 L249.6 437 M254.5 431.2 L260.5 424.1 M265.4 418.3 L271.4 411.2 M276.3 405.4 L282.4 398.3 M287.3 392.5 L293.4 385.4 M298.3 379.6 L304.4 372.5 M309.3 366.7 L315.4 359.6 M320.4 353.8 L326.4 346.7 M331.4 341 L337.5 333.9 M342.5 328.1 L348.6 321.1 M353.6 315.3 L359.7 308.2 M364.7 302.5 L370.8 295.4 M375.8 289.7 L381.9 282.6 M386.9 276.9 L393.1 269.8 M398.1 264.1 L404.3 257 M409.3 251.3 L415.4 244.3 M420.5 238.5 L426.7 231.5 M431.7 225.8 L437.9 218.8 M442.9 213 L449.1 206 M454.2 200.3 L460.4 193.3 M465.5 187.6 L471.7 180.6 M476.7 174.9 L483 167.9 M488 162.1 L494.3 155.2 M499.4 149.5 L505.6 142.5 M510.7 136.8 L516.9 129.8 M522 124.1 L528.3 117.1 M533.4 111.4 L539.7 104.5 M544.8 98.8 L551 91.8 M556.2 86.1 L562.4 79.2 M263.8 498.7 L269.6 491.5 M274.3 485.5 L280.1 478.3 M284.8 472.4 L290.6 465.2 M295.4 459.2 L301.2 452 M305.9 446.1 L311.8 438.9 M316.5 433 L322.4 425.8 M327.2 419.9 L333 412.7 M337.8 406.8 L343.7 399.6 M348.5 393.7 L354.4 386.6 M359.2 380.7 L365.1 373.5 M369.9 367.6 L375.8 360.5 M380.7 354.6 L386.6 347.4 M391.5 341.6 L397.4 334.4 M402.3 328.6 L408.2 321.4 M413.1 315.6 L419 308.5 M423.9 302.6 L429.9 295.5 M434.8 289.7 L440.8 282.5 M445.7 276.7 L451.7 269.6 M456.6 263.8 L462.6 256.7 M467.5 250.8 L473.5 243.7 M478.5 237.9 L484.5 230.8 M489.4 225 L495.5 217.9 M500.4 212.1 L506.5 205 M511.4 199.2 L517.5 192.2 M522.5 186.4 L528.5 179.3 M533.5 173.5 L539.6 166.5 M544.6 160.7 L550.7 153.6 M555.7 147.9 L561.8 140.8 M566.8 135 L572.9 128 M577.9 122.2 L584 115.2 M589.1 109.4 L595.2 102.4 M600.2 96.6 L606.4 89.6 M611.4 83.9 L617.6 76.8 M315.7 501.5 L321.3 494.2 M325.9 488.2 L331.5 480.8 M336.2 474.9 L341.8 467.5 M346.4 461.6 L352.1 454.2 M356.7 448.3 L362.4 441 M367.1 435 L372.7 427.7 M377.4 421.8 L383.1 414.5 M387.8 408.5 L393.5 401.3 M398.2 395.3 L404 388 M408.7 382.1 L414.4 374.9 M419.1 368.9 L424.9 361.7 M429.6 355.8 L435.4 348.5 M440.2 342.6 L446 335.4 M450.7 329.5 L456.5 322.2 M461.3 316.3 L467.1 309.1 M471.9 303.2 L477.8 296 M482.6 290.1 L488.4 282.9 M493.2 277 L499.1 269.9 M503.9 264 L509.8 256.8 M514.6 250.9 L520.5 243.7 M525.3 237.9 L531.3 230.7 M536.1 224.9 L542 217.7 M546.9 211.8 L552.8 204.7 M557.7 198.8 L563.6 191.7 M568.5 185.9 L574.5 178.7 M579.4 172.9 L585.3 165.7 M590.2 159.9 L596.2 152.8 M601.1 147 L607.1 139.9 M612 134 L618.1 126.9 M623 121.1 L629 114 M633.9 108.2 L640 101.1 M644.9 95.3 L651 88.2 M655.9 82.4 L662 75.3 M347.7 503.5 L352.6 496.9 M357.1 490.9 L362.6 483.5 M367.2 477.5 L372.7 470.1 M377.2 464.1 L382.8 456.7 M387.4 450.7 L392.9 443.4 M397.5 437.4 L403.1 430 M407.7 424 L413.3 416.7 M417.9 410.7 L423.5 403.4 M428.1 397.4 L433.8 390.1 M438.4 384.1 L444.1 376.8 M448.7 370.8 L454.4 363.5 M459.1 357.5 L464.8 350.3 M469.4 344.3 L475.1 337 M479.8 331.1 L485.6 323.8 M490.3 317.9 L496 310.6 M500.7 304.7 L506.5 297.4 M511.2 291.5 L517 284.2 M521.7 278.3 L527.5 271.1 M532.2 265.2 L538 257.9 M542.8 252 L548.6 244.8 M553.4 238.9 L559.2 231.7 M564 225.8 L569.9 218.6 M574.7 212.7 L580.5 205.5 M585.3 199.6 L591.2 192.4 M596 186.6 L601.9 179.4 M606.7 173.5 L612.6 166.3 M617.5 160.5 L623.4 153.3 M628.2 147.5 L634.2 140.3 M639 134.4 L645 127.3 M649.8 121.4 L655.8 114.3 M660.7 108.5 L666.6 101.3 M671.5 95.5 L677.5 88.4 M682.4 82.5 L688.4 75.4 M372.4 503.5 L375.1 499.8 M379.6 493.7 L385 486.3 M389.5 480.2 L394.9 472.8 M399.4 466.7 L404.9 459.3 M409.4 453.3 L414.9 445.9 M419.4 439.9 L424.9 432.5 M429.4 426.4 L434.9 419.1 M439.5 413 L445 405.7 M449.6 399.7 L455.2 392.3 M459.7 386.3 L465.3 379 M469.9 372.9 L475.5 365.6 M480.1 359.6 L485.8 352.3 M490.4 346.3 L496 339 M500.7 333 L506.3 325.7 M511 319.7 L516.6 312.4 M521.3 306.5 L527 299.2 M531.7 293.2 L537.4 285.9 M542.1 280 L547.8 272.7 M552.5 266.8 L558.2 259.5 M562.9 253.6 L568.7 246.3 M573.4 240.4 L579.2 233.2 M583.9 227.2 L589.7 220 M594.4 214.1 L600.3 206.9 M605 200.9 L610.8 193.7 M615.6 187.8 L621.4 180.6 M626.2 174.7 L632.1 167.5 M636.9 161.6 L642.7 154.4 M647.5 148.5 L653.4 141.4 M658.2 135.5 L664.1 128.3 M668.9 122.4 L674.8 115.2 M679.7 109.4 L685.6 102.2 M690.4 96.4 L696.3 89.2 M701.2 83.3 L702.5 81.8 M408.5 503.5 L409.1 502.6 M413.4 496.5 L418.7 489 M423.1 482.9 L428.4 475.4 M432.8 469.3 L438.2 461.9 M442.6 455.8 L448 448.3 M452.4 442.2 L457.8 434.8 M462.2 428.7 L467.6 421.3 M472.1 415.2 L477.5 407.8 M482 401.7 L487.5 394.3 M491.9 388.3 L497.4 380.9 M501.9 374.8 L507.4 367.4 M511.9 361.4 L517.5 354 M522 348 L527.5 340.6 M532.1 334.6 L537.7 327.2 M542.2 321.2 L547.8 313.9 M552.4 307.8 L558 300.5 M562.6 294.5 L568.2 287.2 M572.8 281.2 L578.4 273.9 M583 267.9 L588.7 260.6 M593.3 254.6 L599 247.3 M603.6 241.3 L609.3 234 M614 228.1 L619.7 220.8 M624.4 214.8 L630.1 207.5 M634.8 201.6 L640.5 194.3 M645.2 188.4 L651 181.1 M655.7 175.2 L661.4 167.9 M666.2 162 L671.9 154.8 M676.7 148.9 L682.5 141.6 M687.2 135.7 L693 128.5 M697.8 122.6 L701.9 117.5 M437.9 499.4 L443.1 491.9 M447.4 485.7 L452.6 478.2 M456.9 472 L462.2 464.5 M466.5 458.4 L471.8 450.9 M476.2 444.8 L481.5 437.3 M485.8 431.2 L491.2 423.7 M495.5 417.6 L500.9 410.1 M505.3 404 L510.7 396.6 M515.1 390.5 L520.5 383 M524.9 376.9 L530.4 369.5 M534.8 363.4 L540.3 356 M544.7 350 L550.2 342.5 M554.7 336.5 L560.2 329.1 M564.6 323 L570.2 315.7 M574.7 309.6 L580.2 302.2 M584.7 296.2 L590.3 288.8 M594.8 282.8 L600.4 275.5 M604.9 269.4 L610.5 262.1 M615.1 256.1 L620.7 248.7 M625.3 242.7 L630.9 235.4 M635.5 229.4 L641.1 222.1 M645.8 216.1 L651.4 208.8 M656 202.8 L661.7 195.5 M666.4 189.5 L672 182.3 M676.7 176.3 L682.4 169 M687.1 163 L692.8 155.8 M697.5 149.8 L703.2 142.6 M474.7 502.3 L479.8 494.7 M483.9 488.5 L489.1 480.9 M493.2 474.7 L498.4 467.1 M502.6 460.9 L507.7 453.4 M512 447.2 L517.1 439.6 M521.4 433.5 L526.6 425.9 M530.9 419.8 L536.1 412.2 M540.4 406.1 L545.6 398.6 M550 392.4 L555.2 384.9 M559.6 378.8 L564.9 371.3 M569.2 365.2 L574.5 357.7 M578.9 351.6 L584.3 344.1 M588.6 338 L594 330.5 M598.4 324.4 L603.8 317 M608.2 310.9 L613.6 303.5 M618.1 297.4 L623.5 290 M628 283.9 L633.4 276.5 M637.9 270.4 L643.4 263 M647.9 257 L653.4 249.6 M657.9 243.5 L663.4 236.1 M667.9 230.1 L673.4 222.7 M678 216.7 L683.5 209.3 M688.1 203.3 L693.6 196 M698.2 190 L703.8 182.6 M502.5 503.5 L506.3 497.6 M510.4 491.3 L515.4 483.7 M519.5 477.5 L524.5 469.8 M528.6 463.6 L533.7 456 M537.8 449.8 L542.9 442.2 M547.1 435.9 L552.2 428.4 M556.4 422.2 L561.5 414.6 M565.7 408.4 L570.8 400.8 M575.1 394.7 L580.3 387.1 M584.5 380.9 L589.7 373.4 M594 367.2 L599.2 359.7 M603.5 353.6 L608.8 346 M613.1 339.9 L618.4 332.4 M622.7 326.3 L628 318.8 M632.3 312.7 L637.7 305.2 M642 299.1 L647.4 291.6 M651.8 285.5 L657.1 278 M661.5 271.9 L666.9 264.5 M671.4 258.4 L676.8 251 M681.2 244.9 L686.7 237.5 M691.1 231.4 L696.6 224 M701 217.9 L701.3 217.6 M525.3 503.5 L527.2 500.5 M531.2 494.2 L536.1 486.6 M540.1 480.3 L545 472.6 M549 466.3 L554 458.7 M558.1 452.4 L563.1 444.8 M567.2 438.6 L572.2 430.9 M576.3 424.7 L581.3 417.1 M585.5 410.9 L590.5 403.3 M594.7 397 L599.8 389.5 M604 383.3 L609.1 375.7 M613.3 369.5 L618.5 361.9 M622.7 355.7 L627.9 348.2 M632.1 342 L637.3 334.5 M641.6 328.3 L646.8 320.8 M651.1 314.6 L656.4 307.1 M660.7 301 L666 293.5 M670.3 287.3 L675.6 279.9 M680 273.7 L685.3 266.3 M689.6 260.1 L695 252.7 M699.4 246.6 L704.7 239.1 M548.2 497.2 L553 489.5 M557 483.2 L561.8 475.5 M565.8 469.2 L570.7 461.5 M574.7 455.2 L579.6 447.5 M583.6 441.2 L588.6 433.6 M592.6 427.3 L597.6 419.7 M601.7 413.4 L606.7 405.8 M610.8 399.6 L615.8 391.9 M619.9 385.7 L625 378.1 M629.2 371.9 L634.2 364.3 M638.4 358.1 L643.5 350.5 M647.7 344.3 L652.9 336.7 M657.1 330.5 L662.2 323 M666.5 316.8 L671.7 309.3 M675.9 303.1 L681.1 295.6 M685.4 289.4 L690.7 281.9 M695 275.7 L700.2 268.2 M704.5 262.1 L705.7 260.5 M570 500.1 L574.8 492.4 M578.6 486 L583.4 478.3 M587.3 472 L592 464.2 M596 457.9 L600.8 450.2 M604.7 443.9 L609.6 436.2 M613.6 429.9 L618.4 422.2 M622.4 415.9 L627.4 408.2 M631.4 402 L636.3 394.3 M640.4 388.1 L645.4 380.4 M649.4 374.2 L654.4 366.5 M658.5 360.3 L663.6 352.7 M667.7 346.4 L672.7 338.8 M676.9 332.6 L682 325 M686.2 318.8 L691.3 311.2 M695.5 305 L700.6 297.4 M704.8 291.3 L706.3 289.1 M599.6 503.1 L604.1 495.3 M607.9 488.9 L612.5 481.1 M616.3 474.8 L620.9 467 M624.8 460.6 L629.4 452.8 M633.3 446.5 L638 438.7 M641.9 432.4 L646.6 424.6 M650.5 418.3 L655.3 410.6 M659.3 404.3 L664.1 396.6 M668 390.2 L672.9 382.5 M676.9 376.3 L681.8 368.6 M685.8 362.3 L690.7 354.6 M694.7 348.3 L699.7 340.7 M703.7 334.4 L705.3 332 M624.2 503.5 L627.2 498.3 M630.9 491.9 L635.3 484 M639 477.6 L643.6 469.8 M647.3 463.4 L651.9 455.6 M655.6 449.2 L660.2 441.4 M664 435 L668.7 427.2 M672.5 420.9 L677.2 413.1 M681 406.7 L685.7 399 M689.6 392.6 L694.4 384.9 M698.3 378.6 L703.1 370.8 M644.9 503.5 L646.1 501.3 M649.7 494.9 L654.1 487 M657.7 480.5 L662.1 472.7 M665.8 466.2 L670.3 458.4 M673.9 452 L678.5 444.1 M682.2 437.7 L686.7 429.9 M690.5 423.5 L695.1 415.7 M698.8 409.3 L702.3 403.4 M681.1 497.9 L685.3 489.9 M688.8 483.4 L693.1 475.5 M696.6 469 L700.9 461.1 M704.5 454.6 L705.1 453.5"/>
</g>
<g fill="none" stroke="#000" stroke-width="1" shape-rendering="crispEdges">
<path d="M87 74.5 H697 M87 201.5 H697 M87 275.5 H697 M87 327.5 H697 M87 368.5 H697 M87 401.5 H697 M87 429.5 H697 M87 453.5 H697 M87 475.5 H697 M87 494.5 H697 M87 503.5 H697 M87.5 74 V504"/>
</g>
<g fill="none" shape-rendering="crispEdges">
<path stroke="#560090" stroke-width="1" d="M610.5 484.5 H616.6 M605.9 481.5 H616.6 M602.6 478.5 H616.5 M599.4 475.5 H616.3 M597 472.5 H616.1 M594.4 468.5 H615.9 M591.9 465.5 H615.6 M590 462.5 H615.4 M588.4 459.5 H615.2 M586.8 455.5 H614.9 M585.2 452.5 H614.5 M583.5 449.5 H614.2 M581.7 445.5 H613.8 M580.1 441.5 H613.3 M578.4 438.5 H612.8 M576.7 434.5 H612.3 M575 430.5 H611.8 M573.1 426.5 H611.3 M571.1 422.5 H610.8 M569.2 418.5 H610.2 M566.9 414.5 H609.4 M564.4 410.5 H608.5 M561.9 405.5 H607.6 M558.8 401.5 H606.6 M557 396.5 H605.6 M555.3 391.5 H604.6 M553.4 386.5 H603.8 M551.3 381.5 H603 M549 376.5 H601.6 M546.6 371.5 H600.3 M544 365.5 H598.7 M541.1 360.5 H596.7 M538 354.5 H594.7 M534.7 348.5 H592.4 M531.3 342.5 H590 M527.5 335.5 H587.6 M523.5 329.5 H584.9 M517.5 322.5 H581.3 M511 315.5 H577.5 M504.2 307.5 H573.5 M496.9 299.5 H569.1 M489 291.5 H563.9 M481.3 283.5 H558.9 M473.9 274.5 H553 M464.8 265.5 H546.1 M456.1 255.5 H537.5 M444.8 244.5 H529 M438.5 233.5 H518 M430.8 221.5 H505.8 M423.8 209.5 H492.9 M418.2 195.5 H480.5 M415.1 180.5 H465.4 M411.7 164.5 H448.6"/>
<path stroke="#0000ff" stroke-width="1.6" d="M376 75 L375.1 87.6 L373.6 115.2 L371.5 150 L369.7 168.4 L366.9 190.5 L365.1 201.5 L359.5 218 L354 232.8 L351.6 240 L343.9 263.9 L340.8 274.9 L344.8 288.7 L350.3 304.4 L354.9 317.2 L357.6 327.4 L367.6 338.4 L379.5 354 L392.4 368.7 L409.9 382.5 L422.8 392.6 L434.7 401.5 L440 403.9 L463.9 416.6 L489.7 429.4 L513.6 442.3 L535.6 453.7 L554 462.5 L572.4 471.7 L587.1 478.2 L594.5 482.8 L600 487.8 L606 492.5 L612.6 496.9"/>
<path stroke="#ff0000" stroke-width="1.6" d="M429.3 75 L423.8 96.8 L416.4 120.7 L410.3 140 L408 148.8 L409.4 154.7 L411.6 164.3 L414.9 180.1 L418.1 195.2 L419.4 202.5 L424.1 209.5 L430.3 221 L438.4 233.3 L443 243 L455.9 254.9 L465.1 265.4 L474.3 274.8 L484.4 287.1 L497.3 300.4 L505.5 309.2 L513.3 317.8 L522.7 328 L529.7 339.5 L537.9 354.3 L545.3 368.4 L551.7 382.8 L555 390.9 L558.6 400.9 L561.4 404.7 L568.7 417.6 L574.6 429.8 L581.6 445.2 L587.1 456.5 L591.2 465 L597.7 473 L600 475.9 L606.2 481.4 L614.5 486.6 L621.4 490.5 L627.8 493.8 L630.2 495.2"/>
<path stroke="#560090" stroke-width="1.7" d="M365.9 75 L424.1 140 L448 164.3 L464.6 180.1 L480.2 195.2 L493.1 209.3 L505.1 221.1 L517.7 233.3 L527.6 243 L537.7 255.4 L546.9 266 L553.3 274.8 L558.9 283.4 L564.4 292.6 L569.7 300.9 L575 310.5 L581.1 322.1 L585.7 330.8 L590.3 343.2 L594.9 355.2 L599.5 368.4 L603.2 382.8 L604.4 390.9 L607.4 404.7 L610.1 417.6 L611.8 430.5 L613.8 445.2 L615.1 458 L616 470.9 L616.6 480.1 L616.6 489.3 L633.4 496.8"/>
<path stroke="#560090" stroke-width="3.4" d="M616.6 480.4 V489.6"/>
<rect x="428" y="75" width="4" height="3" fill="#ff0000"/>
<rect x="374.5" y="75" width="3.5" height="3" fill="#0000ff"/>
</g>
<g font-family="'DejaVu Sans', 'Liberation Sans', sans-serif" font-weight="200" stroke-linejoin="round">
<text transform="translate(85.5 51.6) scale(1.068 1)" font-size="14.68" fill="#000" stroke="#000" stroke-width="0.36" x="-0.77 8.21 12.12 22.23 33.05 39.22 48.35 56.34 64.29 74.78 84.47 89.88 100.34 104.25 113.31 122.24 128.31 137.22 152.88 159.04 168.47 177.91 187.35 197.08 209.05 218.48 228.22 240.19 249.62 261.72 269.44 278.87 288.14 293.02 302.46 311.73 316.61 326.05 335.46 340.20 349.64 360.47 367.01 373.10 381.18 390.12 398.54 406.13 414.22 423.02 433.59 439.75 449.18 458.60 463.34 472.77 484.88 492.59 502.02 511.46 520.87 525.61 535.05 545.88 551.81 560.68 569.52 578.84" dy="0 0 0 0 0 0 0 0 0 0 0 0 0 0 0 0 0 0 0 0 0 0 0 4.18 -4.18 0 4.18 -4.18 0 0 0 0 0 0 0 0 0 0 0 0 0 0 0 0 0 0 0 0 0 0 0 0 0 0 0 0 0 0 0 0 0 0 0 0 0 0 0 0" y="0">AIRS SkewT Diagram 2010<tspan font-size="32.05" stroke-width="0">-</tspan>09<tspan font-size="32.05" stroke-width="0">-</tspan>11/15:54:35.13 (Lat/Lon 19.29/150.47 deg)</text>
<text transform="translate(127.9 65.6) scale(1.134 1)" font-size="9.60" fill="#ff0000" stroke="#ff0000" stroke-width="0.36" x="-13.04 -5.22 0.96 7.13" dy="2.73 -2.73 0 0" y="0"><tspan font-size="20.96" stroke-width="0">-</tspan>120</text>
<text transform="translate(195.7 65.6) scale(1.134 1)" font-size="9.60" fill="#ff0000" stroke="#ff0000" stroke-width="0.36" x="-13.04 -5.22 0.96 7.13" dy="2.73 -2.73 0 0" y="0"><tspan font-size="20.96" stroke-width="0">-</tspan>110</text>
<text transform="translate(263.5 65.6) scale(1.134 1)" font-size="9.60" fill="#ff0000" stroke="#ff0000" stroke-width="0.36" x="-13.04 -5.22 0.96 7.13" dy="2.73 -2.73 0 0" y="0"><tspan font-size="20.96" stroke-width="0">-</tspan>100</text>
<text transform="translate(334.9 65.6) scale(1.134 1)" font-size="9.60" fill="#ff0000" stroke="#ff0000" stroke-width="0.36" x="-9.96 -2.13 4.04" dy="2.73 -2.73 0" y="0"><tspan font-size="20.96" stroke-width="0">-</tspan>90</text>
<text transform="translate(402.7 65.6) scale(1.134 1)" font-size="9.60" fill="#ff0000" stroke="#ff0000" stroke-width="0.36" x="-9.96 -2.13 4.04" dy="2.73 -2.73 0" y="0"><tspan font-size="20.96" stroke-width="0">-</tspan>80</text>
<text transform="translate(470.4 65.6) scale(1.134 1)" font-size="9.60" fill="#ff0000" stroke="#ff0000" stroke-width="0.36" x="-9.96 -2.13 4.04" dy="2.73 -2.73 0" y="0"><tspan font-size="20.96" stroke-width="0">-</tspan>70</text>
<text transform="translate(538.2 65.6) scale(1.134 1)" font-size="9.60" fill="#ff0000" stroke="#ff0000" stroke-width="0.36" x="-9.96 -2.13 4.04" dy="2.73 -2.73 0" y="0"><tspan font-size="20.96" stroke-width="0">-</tspan>60</text>
<text transform="translate(606 65.6) scale(1.134 1)" font-size="9.60" fill="#ff0000" stroke="#ff0000" stroke-width="0.36" x="-9.96 -2.13 4.04" dy="2.73 -2.73 0" y="0"><tspan font-size="20.96" stroke-width="0">-</tspan>50</text>
<text transform="translate(673.7 65.6) scale(1.134 1)" font-size="9.60" fill="#ff0000" stroke="#ff0000" stroke-width="0.36" x="-9.96 -2.13 4.04" dy="2.73 -2.73 0" y="0"><tspan font-size="20.96" stroke-width="0">-</tspan>40</text>
<text transform="translate(98.3 516.8) scale(1.134 1)" font-size="9.60" fill="#ff0000" stroke="#ff0000" stroke-width="0.36" x="-9.96 -2.13 4.04" dy="2.73 -2.73 0" y="0"><tspan font-size="20.96" stroke-width="0">-</tspan>50</text>
<text transform="translate(166.1 516.8) scale(1.134 1)" font-size="9.60" fill="#ff0000" stroke="#ff0000" stroke-width="0.36" x="-9.96 -2.13 4.04" dy="2.73 -2.73 0" y="0"><tspan font-size="20.96" stroke-width="0">-</tspan>40</text>
<text transform="translate(233.8 516.8) scale(1.134 1)" font-size="9.60" fill="#ff0000" stroke="#ff0000" stroke-width="0.36" x="-9.96 -2.13 4.04" dy="2.73 -2.73 0" y="0"><tspan font-size="20.96" stroke-width="0">-</tspan>30</text>
<text transform="translate(301.6 516.8) scale(1.134 1)" font-size="9.60" fill="#ff0000" stroke="#ff0000" stroke-width="0.36" x="-9.96 -2.13 4.04" dy="2.73 -2.73 0" y="0"><tspan font-size="20.96" stroke-width="0">-</tspan>20</text>
<text transform="translate(369.3 516.8) scale(1.134 1)" font-size="9.60" fill="#ff0000" stroke="#ff0000" stroke-width="0.36" x="-9.96 -2.13 4.04" dy="2.73 -2.73 0" y="0"><tspan font-size="20.96" stroke-width="0">-</tspan>10</text>
<text transform="translate(437.1 516.8) scale(1.134 1)" font-size="9.60" fill="#ff0000" stroke="#ff0000" stroke-width="0.36" x="-3.05" y="0">0</text>
<text transform="translate(504.9 516.8) scale(1.134 1)" font-size="9.60" fill="#ff0000" stroke="#ff0000" stroke-width="0.36" x="-6.14 0.03" y="0">10</text>
<text transform="translate(572.6 516.8) scale(1.134 1)" font-size="9.60" fill="#ff0000" stroke="#ff0000" stroke-width="0.36" x="-6.14 0.03" y="0">20</text>
<text transform="translate(640.4 516.8) scale(1.134 1)" font-size="9.60" fill="#ff0000" stroke="#ff0000" stroke-width="0.36" x="-6.14 0.03" y="0">30</text>
<text transform="translate(676.6 516.8) scale(1.051 1)" font-size="10.15" fill="#ff0000" stroke="#ff0000" stroke-width="0.33" x="-0.49 5.52 9.67 16.94" y="0">T(C)</text>
<text transform="translate(67.6 74.8) scale(1.080 1)" font-size="9.60" fill="#000" stroke="#000" stroke-width="0.36" x="-18.49 -12.31 -6.14" y="0">100</text>
<text transform="translate(67.6 201.2) scale(1.080 1)" font-size="9.60" fill="#000" stroke="#000" stroke-width="0.36" x="-18.49 -12.31 -6.14" y="0">200</text>
<text transform="translate(67.6 275.1) scale(1.080 1)" font-size="9.60" fill="#000" stroke="#000" stroke-width="0.36" x="-18.49 -12.31 -6.14" y="0">300</text>
<text transform="translate(67.6 327.6) scale(1.080 1)" font-size="9.60" fill="#000" stroke="#000" stroke-width="0.36" x="-18.49 -12.31 -6.14" y="0">400</text>
<text transform="translate(67.6 368.3) scale(1.080 1)" font-size="9.60" fill="#000" stroke="#000" stroke-width="0.36" x="-18.49 -12.31 -6.14" y="0">500</text>
<text transform="translate(67.6 401.5) scale(1.080 1)" font-size="9.60" fill="#000" stroke="#000" stroke-width="0.36" x="-18.49 -12.31 -6.14" y="0">600</text>
<text transform="translate(67.6 429.7) scale(1.080 1)" font-size="9.60" fill="#000" stroke="#000" stroke-width="0.36" x="-18.49 -12.31 -6.14" y="0">700</text>
<text transform="translate(67.6 454) scale(1.080 1)" font-size="9.60" fill="#000" stroke="#000" stroke-width="0.36" x="-18.49 -12.31 -6.14" y="0">800</text>
<text transform="translate(67.6 475.5) scale(1.080 1)" font-size="9.60" fill="#000" stroke="#000" stroke-width="0.36" x="-18.49 -12.31 -6.14" y="0">900</text>
<text transform="translate(67.6 494.7) scale(1.080 1)" font-size="9.60" fill="#000" stroke="#000" stroke-width="0.36" x="-24.66 -18.49 -12.31 -6.14" y="0">1000</text>
<text transform="translate(81.6 279.5) rotate(-90) scale(1.080 1)" font-size="11.93" fill="#000" stroke="#000" stroke-width="0.31" x="-47.90 -40.40 -32.35 -24.89 -17.21 -9.74 -1.27 6.78 15.37 20.69 25.16 35.03 43.32" y="0">PRESSURE (MB)</text>
<text transform="translate(116.6 116.5) scale(1.042 1)" font-size="17.83" fill="#ff0000" stroke="#ff0000" stroke-width="0.37" x="-0.94 10.23 27.30 38.22 42.66 53.10 64.14 72.83 79.31 90.38 95.21 104.35 110.91 120.62 131.17 148.24" y="0">Ambient Air Temp</text>
<text transform="translate(116.6 138.1) scale(1.042 1)" font-size="17.83" fill="#0000ff" stroke="#0000ff" stroke-width="0.37" x="-0.85 11.71 21.37 36.72 44.78 56.16 66.88 71.44 82.48 91.17 97.73 107.43 117.99 135.06" y="0">Dew Point Temp</text>
<text transform="translate(116.6 160.1) scale(1.042 1)" font-size="17.83" fill="#560090" stroke="#560090" stroke-width="0.37" x="-0.94 10.13 14.96 24.11 32.17 43.54 54.51 62.16 71.90 82.36 88.88 95.44 105.14 115.70 132.77" y="0">Air Parcel Temp</text>
<text transform="translate(699.8 84.8) scale(1.080 1)" font-size="12.07" fill="#000" stroke="#000" stroke-width="0.32" x="-0.58 6.64 14.26 18.28 26.04 33.80" y="0">TP:100</text>
<text transform="translate(699.8 100.5) scale(1.080 1)" font-size="12.07" fill="#000" stroke="#000" stroke-width="0.32" x="-0.55 8.00 18.53 22.26 33.28 38.94" y="0">MW:N/A</text>
<text transform="translate(699.8 116.2) scale(1.080 1)" font-size="12.07" fill="#000" stroke="#000" stroke-width="0.32" x="0.02 6.86 14.88 22.80 26.81 34.57 42.33" y="0">FRZ:579</text>
<text transform="translate(699.8 131.9) scale(1.080 1)" font-size="12.07" fill="#000" stroke="#000" stroke-width="0.32" x="-1.31 9.43 17.50 25.13 29.14 36.90 44.66" y="0">WB0:460</text>
<text transform="translate(699.8 147.6) scale(1.080 1)" font-size="12.07" fill="#000" stroke="#000" stroke-width="0.32" x="0.43 6.84 17.37 21.38 29.14 36.88 40.78 48.54" y="0">PW:37.13</text>
<text transform="translate(699.8 163.2) scale(1.080 1)" font-size="12.07" fill="#000" stroke="#000" stroke-width="0.32" x="-0.12 7.88 16.59 20.60 28.36 36.11 40.00" y="0">RH:53.1</text>
<text transform="translate(699.8 178.9) scale(1.080 1)" font-size="12.07" fill="#000" stroke="#000" stroke-width="0.32" x="-0.55 8.68 16.04 23.47 30.17 34.18 41.94 49.69 53.58" y="0">MAXT:32.0</text>
<text transform="translate(699.8 194.6) scale(1.080 1)" font-size="12.07" fill="#000" stroke="#000" stroke-width="0.32" x="-0.58 5.94 14.65 18.66 26.42 34.18 41.94" y="0">TH:5463</text>
<text transform="translate(699.8 210.3) scale(1.080 1)" font-size="12.07" fill="#000" stroke="#000" stroke-width="0.32" x="-0.06 6.64 14.40 22.02 26.04 33.78 37.68" y="0">L57:5.9</text>
<text transform="translate(699.8 226) scale(1.080 1)" font-size="12.07" fill="#000" stroke="#000" stroke-width="0.32" x="-0.06 6.46 14.68 21.25 25.26 33.02 40.78" y="0">LCL:966</text>
<text transform="translate(701.1 241.7) scale(1.080 1)" font-size="12.07" fill="#000" stroke="#000" stroke-width="0.32" x="-0.06 6.37 9.61 13.87 23.71 31.45 35.35" dy="0 0 0 3.44 -3.44 0 0" y="0">LI:<tspan font-size="26.36" stroke-width="0">-</tspan>7.8</text>
<text transform="translate(700.9 257.4) scale(1.080 1)" font-size="12.07" fill="#000" stroke="#000" stroke-width="0.32" x="0.05 7.53 10.77 14.78 22.53 26.42" y="0">SI:1.6</text>
<text transform="translate(699.8 273.1) scale(1.080 1)" font-size="12.07" fill="#000" stroke="#000" stroke-width="0.32" x="-0.58 5.63 12.32 16.34 24.10 31.84 35.74" y="0">TT:42.9</text>
<text transform="translate(700.6 288.8) scale(1.080 1)" font-size="12.07" fill="#000" stroke="#000" stroke-width="0.32" x="0.12 7.92 11.16 15.17 22.93 30.69" y="0">KI:297</text>
<text transform="translate(699.8 304.5) scale(1.080 1)" font-size="12.07" fill="#000" stroke="#000" stroke-width="0.32" x="0.05 6.45 16.98 20.71 31.72 37.39" y="0">SW:N/A</text>
<text transform="translate(702.1 320.1) scale(1.080 1)" font-size="12.07" fill="#000" stroke="#000" stroke-width="0.32" x="-0.13 7.14 10.38 14.40 22.14 26.04" y="0">EI:0.2</text>
<text transform="translate(698.1 335.8) scale(1.080 1)" font-size="12.07" fill="#000" stroke="#000" stroke-width="0.32" x="0.29 10.52 17.60 25.10 33.23 41.39 48.82 55.77" dy="3.44 -3.44 0 0 0 0 0 3.44" y="0"><tspan font-size="26.36" stroke-width="0">-</tspan>PARCEL<tspan font-size="26.36" stroke-width="0">-</tspan></text>
<text transform="translate(698.4 351.5) scale(1.080 1)" font-size="12.07" fill="#000" stroke="#000" stroke-width="0.32" x="-0.14 7.51 15.57 23.15 30.56 34.57 42.33 50.09 57.85" y="0">CAPE:4012</text>
<text transform="translate(701.1 367.2) scale(1.080 1)" font-size="12.07" fill="#000" stroke="#000" stroke-width="0.32" x="-0.14 7.92 11.01 19.52 28.23 32.24" y="0">CINH:1</text>
<text transform="translate(699.8 382.9) scale(1.080 1)" font-size="12.07" fill="#000" stroke="#000" stroke-width="0.32" x="-0.06 6.46 14.68 21.25 25.26 33.02 40.78" y="0">LCL:966</text>
<text transform="translate(699.8 398.6) scale(1.080 1)" font-size="12.07" fill="#000" stroke="#000" stroke-width="0.32" x="-0.14 7.51 15.57 23.19 27.20 34.94 38.84" y="0">CAP:0.0</text>
<text transform="translate(699.8 414.3) scale(1.080 1)" font-size="12.07" fill="#000" stroke="#000" stroke-width="0.32" x="-0.06 6.62 13.44 21.63 25.65 33.41 41.17" y="0">LFC:959</text>
<text transform="translate(701.1 430) scale(1.080 1)" font-size="12.07" fill="#000" stroke="#000" stroke-width="0.32" x="-0.13 7.31 13.87 17.89 25.65 33.41" y="0">EL:136</text>
<text transform="translate(699.8 445.7) scale(1.080 1)" font-size="12.07" fill="#000" stroke="#000" stroke-width="0.32" x="-0.55 9.75 17.40 23.96 27.98 35.74 43.50" y="0">MPL:101</text>
<text transform="translate(699.8 461.4) scale(1.080 1)" font-size="12.07" fill="#000" stroke="#000" stroke-width="0.32" x="0.29 8.78 19.17 22.26 30.47 39.48" dy="3.44 -3.44 0 0 0 3.44" y="0"><tspan font-size="26.36" stroke-width="0">-</tspan>WIND<tspan font-size="26.36" stroke-width="0">-</tspan></text>
<text transform="translate(702.6 477.1) scale(1.080 1)" font-size="12.07" fill="#000" stroke="#000" stroke-width="0.32" x="-0.25 8.05 16.49" y="0">NOT</text>
<text transform="translate(701.6 492.7) scale(1.080 1)" font-size="12.07" fill="#000" stroke="#000" stroke-width="0.32" x="-0.64 6.35 13.33 20.72 23.99" y="0">AVAIL</text>
<text transform="translate(143.7 524.9) rotate(-45) scale(1.080 1)" font-size="9.33" fill="#560090" stroke="#560090" stroke-width="0.37" x="-7.46 -1.48 1.53" y="0">0.1</text>
<text transform="translate(190.7 524.9) rotate(-45) scale(1.080 1)" font-size="9.33" fill="#560090" stroke="#560090" stroke-width="0.37" x="-7.46 -1.48 1.53" y="0">0.2</text>
<text transform="translate(256.4 524.9) rotate(-45) scale(1.080 1)" font-size="9.33" fill="#560090" stroke="#560090" stroke-width="0.37" x="-7.46 -1.48 1.53" y="0">0.5</text>
<text transform="translate(309.7 524.9) rotate(-45) scale(1.080 1)" font-size="9.33" fill="#560090" stroke="#560090" stroke-width="0.37" x="-2.97" y="0">1</text>
<text transform="translate(342.8 524.9) rotate(-45) scale(1.080 1)" font-size="9.33" fill="#560090" stroke="#560090" stroke-width="0.37" x="-7.46 -1.48 1.53" y="0">1.5</text>
<text transform="translate(366.7 524.9) rotate(-45) scale(1.080 1)" font-size="9.33" fill="#560090" stroke="#560090" stroke-width="0.37" x="-2.97" y="0">2</text>
<text transform="translate(402.2 524.9) rotate(-45) scale(1.080 1)" font-size="9.33" fill="#560090" stroke="#560090" stroke-width="0.37" x="-2.97" y="0">3</text>
<text transform="translate(429.3 524.9) rotate(-45) scale(1.080 1)" font-size="9.33" fill="#560090" stroke="#560090" stroke-width="0.37" x="-2.97" y="0">4</text>
<text transform="translate(467.7 524.9) rotate(-45) scale(1.080 1)" font-size="9.33" fill="#560090" stroke="#560090" stroke-width="0.37" x="-2.97" y="0">6</text>
<text transform="translate(495.7 524.9) rotate(-45) scale(1.080 1)" font-size="9.33" fill="#560090" stroke="#560090" stroke-width="0.37" x="-2.97" y="0">8</text>
<text transform="translate(518.3 524.9) rotate(-45) scale(1.080 1)" font-size="9.33" fill="#560090" stroke="#560090" stroke-width="0.37" x="-5.97 0.03" y="0">10</text>
<text transform="translate(537.6 524.9) rotate(-45) scale(1.080 1)" font-size="9.33" fill="#560090" stroke="#560090" stroke-width="0.37" x="-5.97 0.03" y="0">12</text>
<text transform="translate(560.6 524.9) rotate(-45) scale(1.080 1)" font-size="9.33" fill="#560090" stroke="#560090" stroke-width="0.37" x="-5.97 0.03" y="0">15</text>
<text transform="translate(592 524.9) rotate(-45) scale(1.080 1)" font-size="9.33" fill="#560090" stroke="#560090" stroke-width="0.37" x="-5.97 0.03" y="0">20</text>
<text transform="translate(616 524.9) rotate(-45) scale(1.080 1)" font-size="9.33" fill="#560090" stroke="#560090" stroke-width="0.37" x="-5.97 0.03" y="0">25</text>
<text transform="translate(636.2 524.9) rotate(-45) scale(1.080 1)" font-size="9.33" fill="#560090" stroke="#560090" stroke-width="0.37" x="-5.97 0.03" y="0">30</text>
<text transform="translate(669.7 524.9) rotate(-45) scale(1.080 1)" font-size="9.33" fill="#560090" stroke="#560090" stroke-width="0.37" x="-5.97 0.03" y="0">40</text>
<text transform="translate(673 526.8) scale(1.050 1)" font-size="10.43" fill="#560090" stroke="#560090" stroke-width="0.32" x="0.31 4.75 12.99 18.26 24.18 30.81" y="0">(g/kg)</text>
</g>
</svg>
</body></html>
